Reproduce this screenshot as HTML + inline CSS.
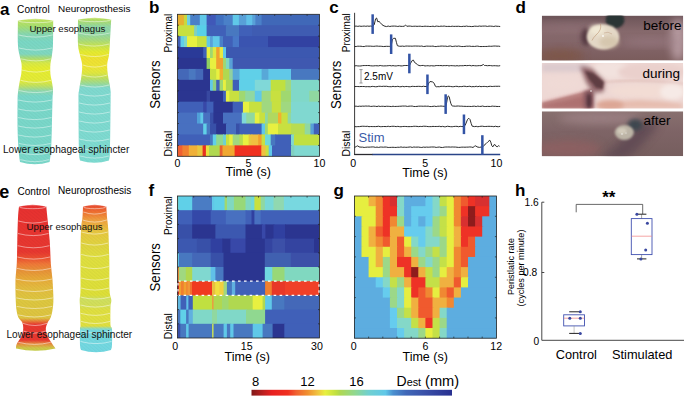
<!DOCTYPE html>
<html><head><meta charset="utf-8"><style>
html,body{margin:0;padding:0;background:#fff;width:685px;height:397px;overflow:hidden}
svg{display:block}
text{font-family:"Liberation Sans", sans-serif}
</style></head><body>
<svg width="685" height="397" viewBox="0 0 685 397">
<defs>
<linearGradient id="cbar" x1="0" x2="1" y1="0" y2="0"><stop offset="0" stop-color="#801818"/><stop offset="0.062" stop-color="#C02020"/><stop offset="0.102" stop-color="#E82020"/><stop offset="0.182" stop-color="#F03020"/><stop offset="0.222" stop-color="#F06030"/><stop offset="0.28" stop-color="#F09030"/><stop offset="0.327" stop-color="#F0C040"/><stop offset="0.367" stop-color="#E8F040"/><stop offset="0.422" stop-color="#C0E040"/><stop offset="0.44" stop-color="#B0D850"/><stop offset="0.516" stop-color="#90D890"/><stop offset="0.584" stop-color="#70D0D0"/><stop offset="0.668" stop-color="#60C8E8"/><stop offset="0.706" stop-color="#4A90D0"/><stop offset="0.77" stop-color="#4068B8"/><stop offset="0.865" stop-color="#3A50A8"/><stop offset="1" stop-color="#283090"/></linearGradient>
</defs>
<text x="0" y="14.8" font-size="17" text-anchor="start" font-weight="bold" fill="#000" >a</text>
<text x="149" y="12.7" font-size="17" text-anchor="start" font-weight="bold" fill="#000" >b</text>
<text x="329.2" y="12.7" font-size="17" text-anchor="start" font-weight="bold" fill="#000" >c</text>
<text x="515.5" y="12.8" font-size="17" text-anchor="start" font-weight="bold" fill="#000" >d</text>
<text x="-0.8" y="198.3" font-size="18" text-anchor="start" font-weight="bold" fill="#000" >e</text>
<text x="148.6" y="196.2" font-size="17" text-anchor="start" font-weight="bold" fill="#000" >f</text>
<text x="333.5" y="196" font-size="17" text-anchor="start" font-weight="bold" fill="#000" >g</text>
<text x="515" y="195.8" font-size="17" text-anchor="start" font-weight="bold" fill="#000" >h</text>
<defs><pattern id="hatch" patternUnits="userSpaceOnUse" width="2.6" height="2.6" patternTransform="rotate(-50)"><rect x="0" y="0" width="1.1" height="2.6" fill="#000" fill-opacity="0.035"/></pattern></defs>
<linearGradient id="cyA1" gradientUnits="userSpaceOnUse" x1="0" y1="18" x2="0" y2="166"><stop offset="0.0000" stop-color="#C8E458"/><stop offset="0.0541" stop-color="#A8E070"/><stop offset="0.1081" stop-color="#88D8B0"/><stop offset="0.1622" stop-color="#7AD8C6"/><stop offset="0.2432" stop-color="#80D8C0"/><stop offset="0.2703" stop-color="#A8DC78"/><stop offset="0.3041" stop-color="#D8EA48"/><stop offset="0.3378" stop-color="#E6EE30"/><stop offset="0.4257" stop-color="#E4EC38"/><stop offset="0.4595" stop-color="#C0E264"/><stop offset="0.4932" stop-color="#90D8B0"/><stop offset="0.5270" stop-color="#7AD8CA"/><stop offset="1.0000" stop-color="#7AD8CA"/></linearGradient>
<path d="M17.90,20.50 C17.90,24.42 17.63,38.25 17.90,44.00 C18.17,49.75 18.88,51.60 19.50,55.00 C20.12,58.40 21.30,61.32 21.60,64.40 C21.90,67.48 21.57,70.90 21.30,73.50 C21.03,76.10 20.48,77.35 20.00,80.00 C19.52,82.65 18.80,86.07 18.40,89.40 C18.00,92.73 17.73,93.23 17.60,100.00 C17.47,106.77 17.43,121.58 17.60,130.00 C17.77,138.42 18.20,145.17 18.60,150.50 C19.00,155.83 19.77,160.08 20.00,162.00 Q34.80,166.60 49.60,162.00 C49.83,160.08 50.63,155.83 51.00,150.50 C51.37,145.17 51.55,138.42 51.80,130.00 C52.05,121.58 52.30,106.77 52.50,100.00 C52.70,93.23 53.17,92.73 53.00,89.40 C52.83,86.07 51.93,82.65 51.50,80.00 C51.07,77.35 50.58,76.10 50.40,73.50 C50.22,70.90 50.13,67.48 50.40,64.40 C50.67,61.32 51.57,58.40 52.00,55.00 C52.43,51.60 52.80,49.75 53.00,44.00 C53.20,38.25 53.17,24.42 53.20,20.50 Q35.55,17.00 17.90,20.50 Z" fill="url(#cyA1)"/>
<path d="M17.90,20.50 C17.90,24.42 17.63,38.25 17.90,44.00 C18.17,49.75 18.88,51.60 19.50,55.00 C20.12,58.40 21.30,61.32 21.60,64.40 C21.90,67.48 21.57,70.90 21.30,73.50 C21.03,76.10 20.48,77.35 20.00,80.00 C19.52,82.65 18.80,86.07 18.40,89.40 C18.00,92.73 17.73,93.23 17.60,100.00 C17.47,106.77 17.43,121.58 17.60,130.00 C17.77,138.42 18.20,145.17 18.60,150.50 C19.00,155.83 19.77,160.08 20.00,162.00 Q34.80,166.60 49.60,162.00 C49.83,160.08 50.63,155.83 51.00,150.50 C51.37,145.17 51.55,138.42 51.80,130.00 C52.05,121.58 52.30,106.77 52.50,100.00 C52.70,93.23 53.17,92.73 53.00,89.40 C52.83,86.07 51.93,82.65 51.50,80.00 C51.07,77.35 50.58,76.10 50.40,73.50 C50.22,70.90 50.13,67.48 50.40,64.40 C50.67,61.32 51.57,58.40 52.00,55.00 C52.43,51.60 52.80,49.75 53.00,44.00 C53.20,38.25 53.17,24.42 53.20,20.50 Q35.55,17.00 17.90,20.50 Z" fill="url(#hatch)"/>
<path d="M18.40,35.00 Q35.49,39.20 52.58,35.00" stroke="#fff" stroke-opacity="0.55" stroke-width="0.8" fill="none"/>
<path d="M18.98,48.00 Q35.56,52.20 52.14,48.00" stroke="#fff" stroke-opacity="0.55" stroke-width="0.8" fill="none"/>
<path d="M20.85,58.80 Q35.85,63.00 50.85,58.80" stroke="#fff" stroke-opacity="0.55" stroke-width="0.8" fill="none"/>
<path d="M21.92,70.00 Q35.91,74.20 49.90,70.00" stroke="#fff" stroke-opacity="0.55" stroke-width="0.8" fill="none"/>
<path d="M20.45,80.30 Q35.75,84.50 51.05,80.30" stroke="#fff" stroke-opacity="0.55" stroke-width="0.8" fill="none"/>
<path d="M18.82,90.50 Q35.63,94.70 52.45,90.50" stroke="#fff" stroke-opacity="0.55" stroke-width="0.8" fill="none"/>
<path d="M18.10,100.00 Q35.05,104.20 52.00,100.00" stroke="#fff" stroke-opacity="0.55" stroke-width="0.8" fill="none"/>
<path d="M18.10,109.00 Q34.95,113.20 51.79,109.00" stroke="#fff" stroke-opacity="0.55" stroke-width="0.8" fill="none"/>
<path d="M18.10,117.50 Q34.85,121.70 51.59,117.50" stroke="#fff" stroke-opacity="0.55" stroke-width="0.8" fill="none"/>
<path d="M18.10,126.00 Q34.75,130.20 51.39,126.00" stroke="#fff" stroke-opacity="0.55" stroke-width="0.8" fill="none"/>
<path d="M18.34,135.00 Q34.72,139.20 51.10,135.00" stroke="#fff" stroke-opacity="0.55" stroke-width="0.8" fill="none"/>
<path d="M18.75,143.40 Q34.77,147.60 50.78,143.40" stroke="#fff" stroke-opacity="0.55" stroke-width="0.8" fill="none"/>
<path d="M19.34,152.50 Q34.80,156.70 50.26,152.50" stroke="#fff" stroke-opacity="0.55" stroke-width="0.8" fill="none"/>
<path d="M20.21,159.60 Q34.80,163.80 49.39,159.60" stroke="#fff" stroke-opacity="0.55" stroke-width="0.8" fill="none"/>
<ellipse cx="35.55" cy="20.80" rx="17.25" ry="1.9" fill="none" stroke="#fff" stroke-opacity="0.6" stroke-width="0.8"/>
<linearGradient id="cyA2" gradientUnits="userSpaceOnUse" x1="0" y1="17" x2="0" y2="165"><stop offset="0.0000" stop-color="#C4E250"/><stop offset="0.0338" stop-color="#A8DC78"/><stop offset="0.0676" stop-color="#90D8A8"/><stop offset="0.1149" stop-color="#92D8A4"/><stop offset="0.1554" stop-color="#A8DC80"/><stop offset="0.1959" stop-color="#C8E450"/><stop offset="0.2365" stop-color="#E6EC30"/><stop offset="0.2905" stop-color="#F0E232"/><stop offset="0.3378" stop-color="#EEE636"/><stop offset="0.3784" stop-color="#E0E840"/><stop offset="0.4122" stop-color="#C0E060"/><stop offset="0.4459" stop-color="#A0DC90"/><stop offset="0.4797" stop-color="#80DAD0"/><stop offset="1.0000" stop-color="#7EDCD2"/></linearGradient>
<path d="M78.00,19.50 C78.00,23.58 77.67,38.08 78.00,44.00 C78.33,49.92 79.32,51.60 80.00,55.00 C80.68,58.40 81.85,60.93 82.10,64.40 C82.35,67.87 81.98,71.63 81.50,75.80 C81.02,79.97 79.70,85.37 79.20,89.40 C78.70,93.43 78.53,89.90 78.50,100.00 C78.47,110.10 78.75,139.92 79.00,150.00 C79.25,160.08 79.83,158.75 80.00,160.50 Q94.50,165.10 109.00,160.50 C109.17,158.75 109.73,160.08 110.00,150.00 C110.27,139.92 110.53,110.10 110.60,100.00 C110.67,89.90 110.83,93.43 110.40,89.40 C109.97,85.37 108.53,79.97 108.00,75.80 C107.47,71.63 107.03,67.87 107.20,64.40 C107.37,60.93 108.57,58.40 109.00,55.00 C109.43,51.60 109.43,49.92 109.80,44.00 C110.17,38.08 110.97,23.58 111.20,19.50 Q94.60,16.00 78.00,19.50 Z" fill="url(#cyA2)"/>
<path d="M78.00,19.50 C78.00,23.58 77.67,38.08 78.00,44.00 C78.33,49.92 79.32,51.60 80.00,55.00 C80.68,58.40 81.85,60.93 82.10,64.40 C82.35,67.87 81.98,71.63 81.50,75.80 C81.02,79.97 79.70,85.37 79.20,89.40 C78.70,93.43 78.53,89.90 78.50,100.00 C78.47,110.10 78.75,139.92 79.00,150.00 C79.25,160.08 79.83,158.75 80.00,160.50 Q94.50,165.10 109.00,160.50 C109.17,158.75 109.73,160.08 110.00,150.00 C110.27,139.92 110.53,110.10 110.60,100.00 C110.67,89.90 110.83,93.43 110.40,89.40 C109.97,85.37 108.53,79.97 108.00,75.80 C107.47,71.63 107.03,67.87 107.20,64.40 C107.37,60.93 108.57,58.40 109.00,55.00 C109.43,51.60 109.43,49.92 109.80,44.00 C110.17,38.08 110.97,23.58 111.20,19.50 Q94.60,16.00 78.00,19.50 Z" fill="url(#hatch)"/>
<path d="M78.50,33.00 Q94.21,37.20 109.93,33.00" stroke="#fff" stroke-opacity="0.55" stroke-width="0.8" fill="none"/>
<path d="M78.50,44.00 Q93.90,48.20 109.30,44.00" stroke="#fff" stroke-opacity="0.55" stroke-width="0.8" fill="none"/>
<path d="M80.41,54.50 Q94.47,58.70 108.54,54.50" stroke="#fff" stroke-opacity="0.55" stroke-width="0.8" fill="none"/>
<path d="M82.57,65.00 Q94.66,69.20 106.74,65.00" stroke="#fff" stroke-opacity="0.55" stroke-width="0.8" fill="none"/>
<path d="M82.04,75.00 Q94.74,79.20 107.44,75.00" stroke="#fff" stroke-opacity="0.55" stroke-width="0.8" fill="none"/>
<path d="M80.44,85.00 Q94.78,89.20 109.12,85.00" stroke="#fff" stroke-opacity="0.55" stroke-width="0.8" fill="none"/>
<path d="M79.40,94.00 Q94.69,98.20 109.99,94.00" stroke="#fff" stroke-opacity="0.55" stroke-width="0.8" fill="none"/>
<path d="M79.03,103.00 Q94.55,107.20 110.06,103.00" stroke="#fff" stroke-opacity="0.55" stroke-width="0.8" fill="none"/>
<path d="M79.12,112.00 Q94.54,116.20 109.96,112.00" stroke="#fff" stroke-opacity="0.55" stroke-width="0.8" fill="none"/>
<path d="M79.21,121.00 Q94.53,125.20 109.85,121.00" stroke="#fff" stroke-opacity="0.55" stroke-width="0.8" fill="none"/>
<path d="M79.30,130.00 Q94.52,134.20 109.74,130.00" stroke="#fff" stroke-opacity="0.55" stroke-width="0.8" fill="none"/>
<path d="M79.39,139.00 Q94.51,143.20 109.63,139.00" stroke="#fff" stroke-opacity="0.55" stroke-width="0.8" fill="none"/>
<path d="M79.48,148.00 Q94.50,152.20 109.52,148.00" stroke="#fff" stroke-opacity="0.55" stroke-width="0.8" fill="none"/>
<path d="M80.07,156.00 Q94.50,160.20 108.93,156.00" stroke="#fff" stroke-opacity="0.55" stroke-width="0.8" fill="none"/>
<ellipse cx="94.60" cy="19.80" rx="16.20" ry="1.9" fill="none" stroke="#fff" stroke-opacity="0.6" stroke-width="0.8"/>
<linearGradient id="cyE1" gradientUnits="userSpaceOnUse" x1="0" y1="203" x2="0" y2="354"><stop offset="0.0000" stop-color="#E83030"/><stop offset="0.3245" stop-color="#E83830"/><stop offset="0.3642" stop-color="#EC5030"/><stop offset="0.4040" stop-color="#F07838"/><stop offset="0.4437" stop-color="#E89038"/><stop offset="0.4967" stop-color="#E8A838"/><stop offset="0.5629" stop-color="#E4BC40"/><stop offset="0.6424" stop-color="#DEC840"/><stop offset="0.7616" stop-color="#DEC440"/><stop offset="0.7848" stop-color="#E87838"/><stop offset="0.8046" stop-color="#E83830"/><stop offset="0.9073" stop-color="#E83830"/><stop offset="0.9338" stop-color="#E89040"/><stop offset="0.9603" stop-color="#D0C848"/><stop offset="0.9868" stop-color="#C0D048"/></linearGradient>
<path d="M19.00,206.50 C18.83,208.37 18.28,212.05 18.00,217.70 C17.72,223.35 17.50,232.85 17.30,240.40 C17.10,247.95 17.10,256.40 16.80,263.00 C16.50,269.60 15.68,274.00 15.50,280.00 C15.32,286.00 15.53,294.00 15.70,299.00 C15.87,304.00 16.03,306.88 16.50,310.00 C16.97,313.12 17.53,315.62 18.50,317.70 C19.47,319.78 21.52,320.62 22.30,322.50 C23.08,324.38 23.37,326.65 23.20,329.00 C23.03,331.35 22.40,334.07 21.30,336.60 C20.20,339.13 17.48,342.22 16.60,344.20 C15.72,346.18 16.10,347.78 16.00,348.50 Q35.75,353.10 55.50,348.50 C55.00,347.78 53.80,346.18 52.50,344.20 C51.20,342.22 48.82,339.13 47.70,336.60 C46.58,334.07 45.80,331.35 45.80,329.00 C45.80,326.65 46.90,324.38 47.70,322.50 C48.50,320.62 49.80,319.78 50.60,317.70 C51.40,315.62 52.03,313.12 52.50,310.00 C52.97,306.88 53.40,304.00 53.40,299.00 C53.40,294.00 52.93,286.00 52.50,280.00 C52.07,274.00 51.27,269.60 50.80,263.00 C50.33,256.40 50.27,247.95 49.70,240.40 C49.13,232.85 47.97,223.35 47.40,217.70 C46.83,212.05 46.48,208.37 46.30,206.50 Q32.65,203.00 19.00,206.50 Z" fill="url(#cyE1)"/>
<path d="M19.00,206.50 C18.83,208.37 18.28,212.05 18.00,217.70 C17.72,223.35 17.50,232.85 17.30,240.40 C17.10,247.95 17.10,256.40 16.80,263.00 C16.50,269.60 15.68,274.00 15.50,280.00 C15.32,286.00 15.53,294.00 15.70,299.00 C15.87,304.00 16.03,306.88 16.50,310.00 C16.97,313.12 17.53,315.62 18.50,317.70 C19.47,319.78 21.52,320.62 22.30,322.50 C23.08,324.38 23.37,326.65 23.20,329.00 C23.03,331.35 22.40,334.07 21.30,336.60 C20.20,339.13 17.48,342.22 16.60,344.20 C15.72,346.18 16.10,347.78 16.00,348.50 Q35.75,353.10 55.50,348.50 C55.00,347.78 53.80,346.18 52.50,344.20 C51.20,342.22 48.82,339.13 47.70,336.60 C46.58,334.07 45.80,331.35 45.80,329.00 C45.80,326.65 46.90,324.38 47.70,322.50 C48.50,320.62 49.80,319.78 50.60,317.70 C51.40,315.62 52.03,313.12 52.50,310.00 C52.97,306.88 53.40,304.00 53.40,299.00 C53.40,294.00 52.93,286.00 52.50,280.00 C52.07,274.00 51.27,269.60 50.80,263.00 C50.33,256.40 50.27,247.95 49.70,240.40 C49.13,232.85 47.97,223.35 47.40,217.70 C46.83,212.05 46.48,208.37 46.30,206.50 Q32.65,203.00 19.00,206.50 Z" fill="url(#hatch)"/>
<path d="M18.40,221.00 Q32.82,225.20 47.23,221.00" stroke="#fff" stroke-opacity="0.6" stroke-width="0.8" fill="none"/>
<path d="M18.01,233.50 Q33.26,237.70 48.50,233.50" stroke="#fff" stroke-opacity="0.6" stroke-width="0.8" fill="none"/>
<path d="M17.68,245.70 Q33.57,249.90 49.46,245.70" stroke="#fff" stroke-opacity="0.6" stroke-width="0.8" fill="none"/>
<path d="M17.43,257.00 Q33.72,261.20 50.01,257.00" stroke="#fff" stroke-opacity="0.6" stroke-width="0.8" fill="none"/>
<path d="M16.89,268.40 Q33.86,272.60 50.84,268.40" stroke="#fff" stroke-opacity="0.6" stroke-width="0.8" fill="none"/>
<path d="M16.07,279.10 Q33.99,283.30 51.91,279.10" stroke="#fff" stroke-opacity="0.6" stroke-width="0.8" fill="none"/>
<path d="M16.10,289.40 Q34.27,293.60 52.45,289.40" stroke="#fff" stroke-opacity="0.6" stroke-width="0.8" fill="none"/>
<path d="M16.19,297.90 Q34.52,302.10 52.85,297.90" stroke="#fff" stroke-opacity="0.6" stroke-width="0.8" fill="none"/>
<path d="M16.74,306.40 Q34.52,310.60 52.29,306.40" stroke="#fff" stroke-opacity="0.6" stroke-width="0.8" fill="none"/>
<path d="M18.27,314.90 Q34.53,319.10 50.79,314.90" stroke="#fff" stroke-opacity="0.6" stroke-width="0.8" fill="none"/>
<path d="M22.92,323.40 Q34.93,327.60 46.94,323.40" stroke="#fff" stroke-opacity="0.6" stroke-width="0.8" fill="none"/>
<path d="M23.20,331.00 Q34.50,335.20 45.80,331.00" stroke="#fff" stroke-opacity="0.6" stroke-width="0.8" fill="none"/>
<path d="M18.27,342.30 Q34.54,346.50 50.80,342.30" stroke="#fff" stroke-opacity="0.6" stroke-width="0.8" fill="none"/>
<ellipse cx="32.65" cy="206.80" rx="13.25" ry="1.9" fill="none" stroke="#fff" stroke-opacity="0.6" stroke-width="0.8"/>
<linearGradient id="cyE2" gradientUnits="userSpaceOnUse" x1="0" y1="203" x2="0" y2="354"><stop offset="0.0000" stop-color="#E84030"/><stop offset="0.0596" stop-color="#F07030"/><stop offset="0.1126" stop-color="#F0A040"/><stop offset="0.1921" stop-color="#E8C840"/><stop offset="0.2848" stop-color="#E0D640"/><stop offset="0.3642" stop-color="#E0E040"/><stop offset="0.6093" stop-color="#DEE038"/><stop offset="0.6358" stop-color="#D0E060"/><stop offset="0.6821" stop-color="#D4E058"/><stop offset="0.7086" stop-color="#E0E040"/><stop offset="0.8146" stop-color="#E0E040"/><stop offset="0.8278" stop-color="#A0DCA8"/><stop offset="0.8411" stop-color="#76DAE0"/><stop offset="1.0000" stop-color="#72D8E2"/></linearGradient>
<path d="M83.00,206.50 C82.92,208.25 82.83,213.08 82.50,217.00 C82.17,220.92 81.33,222.83 81.00,230.00 C80.67,237.17 80.58,250.00 80.50,260.00 C80.42,270.00 80.63,283.33 80.50,290.00 C80.37,296.67 79.78,297.17 79.70,300.00 C79.62,302.83 79.87,302.83 80.00,307.00 C80.13,311.17 80.50,321.33 80.50,325.00 C80.50,328.67 80.08,325.67 80.00,329.00 C79.92,332.33 79.83,341.50 80.00,345.00 C80.17,348.50 80.83,349.17 81.00,350.00 Q96.00,354.60 111.00,350.00 C111.17,349.17 111.83,348.50 112.00,345.00 C112.17,341.50 112.25,332.33 112.00,329.00 C111.75,325.67 110.75,328.67 110.50,325.00 C110.25,321.33 110.37,311.17 110.50,307.00 C110.63,302.83 111.47,302.83 111.30,300.00 C111.13,297.17 109.83,296.67 109.50,290.00 C109.17,283.33 109.50,270.00 109.30,260.00 C109.10,250.00 108.68,237.17 108.30,230.00 C107.92,222.83 107.33,220.92 107.00,217.00 C106.67,213.08 106.42,208.25 106.30,206.50 Q94.65,203.00 83.00,206.50 Z" fill="url(#cyE2)"/>
<path d="M83.00,206.50 C82.92,208.25 82.83,213.08 82.50,217.00 C82.17,220.92 81.33,222.83 81.00,230.00 C80.67,237.17 80.58,250.00 80.50,260.00 C80.42,270.00 80.63,283.33 80.50,290.00 C80.37,296.67 79.78,297.17 79.70,300.00 C79.62,302.83 79.87,302.83 80.00,307.00 C80.13,311.17 80.50,321.33 80.50,325.00 C80.50,328.67 80.08,325.67 80.00,329.00 C79.92,332.33 79.83,341.50 80.00,345.00 C80.17,348.50 80.83,349.17 81.00,350.00 Q96.00,354.60 111.00,350.00 C111.17,349.17 111.83,348.50 112.00,345.00 C112.17,341.50 112.25,332.33 112.00,329.00 C111.75,325.67 110.75,328.67 110.50,325.00 C110.25,321.33 110.37,311.17 110.50,307.00 C110.63,302.83 111.47,302.83 111.30,300.00 C111.13,297.17 109.83,296.67 109.50,290.00 C109.17,283.33 109.50,270.00 109.30,260.00 C109.10,250.00 108.68,237.17 108.30,230.00 C107.92,222.83 107.33,220.92 107.00,217.00 C106.67,213.08 106.42,208.25 106.30,206.50 Q94.65,203.00 83.00,206.50 Z" fill="url(#hatch)"/>
<path d="M83.24,212.00 Q94.70,216.20 106.17,212.00" stroke="#fff" stroke-opacity="0.6" stroke-width="0.8" fill="none"/>
<path d="M82.65,220.00 Q94.73,224.20 106.80,220.00" stroke="#fff" stroke-opacity="0.6" stroke-width="0.8" fill="none"/>
<path d="M81.47,232.00 Q94.67,236.20 107.87,232.00" stroke="#fff" stroke-opacity="0.6" stroke-width="0.8" fill="none"/>
<path d="M81.28,243.00 Q94.76,247.20 108.23,243.00" stroke="#fff" stroke-opacity="0.6" stroke-width="0.8" fill="none"/>
<path d="M81.09,254.40 Q94.85,258.60 108.61,254.40" stroke="#fff" stroke-opacity="0.6" stroke-width="0.8" fill="none"/>
<path d="M81.00,266.50 Q94.92,270.70 108.84,266.50" stroke="#fff" stroke-opacity="0.6" stroke-width="0.8" fill="none"/>
<path d="M81.00,278.00 Q94.96,282.20 108.92,278.00" stroke="#fff" stroke-opacity="0.6" stroke-width="0.8" fill="none"/>
<path d="M81.00,288.00 Q94.99,292.20 108.99,288.00" stroke="#fff" stroke-opacity="0.6" stroke-width="0.8" fill="none"/>
<path d="M80.44,297.00 Q95.35,301.20 110.26,297.00" stroke="#fff" stroke-opacity="0.6" stroke-width="0.8" fill="none"/>
<path d="M80.41,305.00 Q95.32,309.20 110.23,305.00" stroke="#fff" stroke-opacity="0.6" stroke-width="0.8" fill="none"/>
<path d="M80.67,313.30 Q95.34,317.50 110.00,313.30" stroke="#fff" stroke-opacity="0.6" stroke-width="0.8" fill="none"/>
<path d="M80.90,321.40 Q95.45,325.60 110.00,321.40" stroke="#fff" stroke-opacity="0.6" stroke-width="0.8" fill="none"/>
<path d="M80.50,331.00 Q96.00,335.20 111.50,331.00" stroke="#fff" stroke-opacity="0.6" stroke-width="0.8" fill="none"/>
<path d="M80.50,341.50 Q96.00,345.70 111.50,341.50" stroke="#fff" stroke-opacity="0.6" stroke-width="0.8" fill="none"/>
<ellipse cx="94.65" cy="206.80" rx="11.25" ry="1.9" fill="none" stroke="#fff" stroke-opacity="0.6" stroke-width="0.8"/>
<text x="17.1" y="13.2" font-size="10.1" text-anchor="start" font-weight="normal" fill="#000" >Control</text>
<text x="58.1" y="12.4" font-size="9.95" text-anchor="start" font-weight="normal" fill="#000" >Neuroprosthesis</text>
<text x="29.4" y="32.4" font-size="9.65" text-anchor="start" font-weight="normal" fill="#111" >Upper esophagus</text>
<text x="3.0" y="153.2" font-size="10.1" text-anchor="start" font-weight="normal" fill="#111" >Lower esophageal sphincter</text>
<text x="17.4" y="194.7" font-size="10.1" text-anchor="start" font-weight="normal" fill="#000" >Control</text>
<text x="58.1" y="194.0" font-size="10.05" text-anchor="start" font-weight="normal" fill="#000" >Neuroprosthesis</text>
<text x="26.6" y="229.6" font-size="9.65" text-anchor="start" font-weight="normal" fill="#111" >Upper esophagus</text>
<text x="6.5" y="338.2" font-size="10.05" text-anchor="start" font-weight="normal" fill="#111" >Lower esophageal sphincter</text>
<rect x="177.50" y="14.30" width="7.40" height="11.92" fill="#E8B030" />
<rect x="183.90" y="14.30" width="4.10" height="11.92" fill="#C8D840" />
<rect x="187.00" y="14.30" width="4.20" height="11.92" fill="#70D0E0" />
<rect x="190.20" y="14.30" width="10.60" height="11.92" fill="#4A80C8" />
<rect x="199.80" y="14.30" width="7.80" height="11.92" fill="#60C8E8" />
<rect x="206.60" y="14.30" width="10.10" height="11.92" fill="#4058B8" />
<rect x="215.70" y="14.30" width="8.90" height="11.92" fill="#4070C0" />
<rect x="223.60" y="14.30" width="10.10" height="11.92" fill="#4A80C8" />
<rect x="232.70" y="14.30" width="7.20" height="11.92" fill="#60C8E8" />
<rect x="238.90" y="14.30" width="8.40" height="11.92" fill="#58A0D8" />
<rect x="246.30" y="14.30" width="7.00" height="11.92" fill="#60C0E8" />
<rect x="252.30" y="14.30" width="4.10" height="11.92" fill="#58A0D8" />
<rect x="255.40" y="14.30" width="7.20" height="11.92" fill="#4A80C8" />
<rect x="261.60" y="14.30" width="57.90" height="11.92" fill="#4068B8" />
<rect x="177.50" y="25.22" width="17.60" height="11.92" fill="#C8E040" />
<rect x="194.10" y="25.22" width="3.90" height="11.92" fill="#80D0C0" />
<rect x="197.00" y="25.22" width="10.60" height="11.92" fill="#58D0E8" />
<rect x="206.60" y="25.22" width="20.30" height="11.92" fill="#4060B8" />
<rect x="225.90" y="25.22" width="14.10" height="11.92" fill="#4878C0" />
<rect x="239.00" y="25.22" width="14.00" height="11.92" fill="#4060B8" />
<rect x="252.00" y="25.22" width="67.50" height="11.92" fill="#3F5CB2" />
<rect x="177.50" y="36.15" width="4.00" height="11.92" fill="#4060B8" />
<rect x="180.50" y="36.15" width="4.50" height="11.92" fill="#60D0E8" />
<rect x="184.00" y="36.15" width="4.00" height="11.92" fill="#80D8C8" />
<rect x="187.00" y="36.15" width="11.00" height="11.92" fill="#E8F040" />
<rect x="197.00" y="36.15" width="10.60" height="11.92" fill="#C8E040" />
<rect x="206.60" y="36.15" width="4.40" height="11.92" fill="#60C8E8" />
<rect x="210.00" y="36.15" width="3.80" height="11.92" fill="#58A0D8" />
<rect x="212.80" y="36.15" width="7.80" height="11.92" fill="#60C8E8" />
<rect x="219.60" y="36.15" width="4.40" height="11.92" fill="#4A80C8" />
<rect x="223.00" y="36.15" width="10.70" height="11.92" fill="#4060B8" />
<rect x="232.70" y="36.15" width="7.30" height="11.92" fill="#4878C8" />
<rect x="239.00" y="36.15" width="30.00" height="11.92" fill="#3A54B0" />
<rect x="268.00" y="36.15" width="51.50" height="11.92" fill="#3242A2" />
<rect x="177.50" y="47.07" width="26.70" height="11.92" fill="#2A3A98" />
<rect x="203.20" y="47.07" width="4.40" height="11.92" fill="#4060B8" />
<rect x="206.60" y="47.07" width="4.40" height="11.92" fill="#E8F040" />
<rect x="210.00" y="47.07" width="3.80" height="11.92" fill="#A0D870" />
<rect x="212.80" y="47.07" width="4.40" height="11.92" fill="#E0E840" />
<rect x="216.20" y="47.07" width="4.40" height="11.92" fill="#F0A030" />
<rect x="219.60" y="47.07" width="4.40" height="11.92" fill="#E8E840" />
<rect x="223.00" y="47.07" width="4.00" height="11.92" fill="#60C8E8" />
<rect x="226.00" y="47.07" width="93.50" height="11.92" fill="#3C58B0" />
<rect x="177.50" y="57.99" width="30.10" height="11.92" fill="#2B3590" />
<rect x="206.60" y="57.99" width="4.40" height="11.92" fill="#90D060" />
<rect x="210.00" y="57.99" width="7.20" height="11.92" fill="#E8F040" />
<rect x="216.20" y="57.99" width="7.80" height="11.92" fill="#F0A030" />
<rect x="223.00" y="57.99" width="3.90" height="11.92" fill="#A0D870" />
<rect x="225.90" y="57.99" width="4.40" height="11.92" fill="#80D8C0" />
<rect x="229.30" y="57.99" width="4.40" height="11.92" fill="#58A0D8" />
<rect x="232.70" y="57.99" width="86.80" height="11.92" fill="#3F58B0" />
<rect x="177.50" y="68.92" width="12.30" height="11.92" fill="#4468B8" />
<rect x="188.80" y="68.92" width="7.80" height="11.92" fill="#4A78C0" />
<rect x="195.60" y="68.92" width="8.60" height="11.92" fill="#4468B8" />
<rect x="203.20" y="68.92" width="7.80" height="11.92" fill="#2B3590" />
<rect x="210.00" y="68.92" width="7.20" height="11.92" fill="#C8E040" />
<rect x="216.20" y="68.92" width="4.40" height="11.92" fill="#E8F040" />
<rect x="219.60" y="68.92" width="4.40" height="11.92" fill="#F0B030" />
<rect x="223.00" y="68.92" width="7.30" height="11.92" fill="#B0D850" />
<rect x="229.30" y="68.92" width="4.40" height="11.92" fill="#90D0A0" />
<rect x="232.70" y="68.92" width="7.80" height="11.92" fill="#58A8D8" />
<rect x="239.50" y="68.92" width="23.10" height="11.92" fill="#60D0E8" />
<rect x="261.60" y="68.92" width="7.80" height="11.92" fill="#58A8D8" />
<rect x="268.40" y="68.92" width="23.60" height="11.92" fill="#60C8E8" />
<rect x="291.00" y="68.92" width="28.50" height="11.92" fill="#4878C0" />
<rect x="177.50" y="79.84" width="33.50" height="11.92" fill="#2B3590" />
<rect x="210.00" y="79.84" width="3.80" height="11.92" fill="#60C8E8" />
<rect x="212.80" y="79.84" width="4.40" height="11.92" fill="#90D080" />
<rect x="216.20" y="79.84" width="4.40" height="11.92" fill="#4060B8" />
<rect x="219.60" y="79.84" width="4.40" height="11.92" fill="#A0D870" />
<rect x="223.00" y="79.84" width="3.90" height="11.92" fill="#E8F040" />
<rect x="225.90" y="79.84" width="7.80" height="11.92" fill="#B0D850" />
<rect x="232.70" y="79.84" width="7.30" height="11.92" fill="#4060B8" />
<rect x="239.00" y="79.84" width="16.80" height="11.92" fill="#60D0E8" />
<rect x="254.80" y="79.84" width="16.90" height="11.92" fill="#80D8D8" />
<rect x="270.70" y="79.84" width="15.70" height="11.92" fill="#C0E040" />
<rect x="285.40" y="79.84" width="6.60" height="11.92" fill="#A0D880" />
<rect x="291.00" y="79.84" width="28.50" height="11.92" fill="#80D8C8" />
<rect x="177.50" y="90.76" width="30.10" height="11.92" fill="#2B3590" />
<rect x="206.60" y="90.76" width="4.40" height="11.92" fill="#3848A0" />
<rect x="210.00" y="90.76" width="14.00" height="11.92" fill="#2B3590" />
<rect x="223.00" y="90.76" width="3.90" height="11.92" fill="#4060B8" />
<rect x="225.90" y="90.76" width="4.40" height="11.92" fill="#E8F040" />
<rect x="229.30" y="90.76" width="10.70" height="11.92" fill="#C8E040" />
<rect x="239.00" y="90.76" width="7.20" height="11.92" fill="#A0D870" />
<rect x="245.20" y="90.76" width="10.60" height="11.92" fill="#90D8A0" />
<rect x="254.80" y="90.76" width="7.80" height="11.92" fill="#60C8E8" />
<rect x="261.60" y="90.76" width="10.10" height="11.92" fill="#A0D880" />
<rect x="270.70" y="90.76" width="11.20" height="11.92" fill="#C8E040" />
<rect x="280.90" y="90.76" width="11.10" height="11.92" fill="#A0D870" />
<rect x="291.00" y="90.76" width="19.20" height="11.92" fill="#80D8C8" />
<rect x="309.20" y="90.76" width="10.30" height="11.92" fill="#90D8A0" />
<rect x="177.50" y="101.68" width="26.70" height="11.92" fill="#4060B8" />
<rect x="203.20" y="101.68" width="4.40" height="11.92" fill="#3848A8" />
<rect x="206.60" y="101.68" width="7.80" height="11.92" fill="#4060B8" />
<rect x="213.40" y="101.68" width="20.30" height="11.92" fill="#2B3590" />
<rect x="232.70" y="101.68" width="11.20" height="11.92" fill="#4060B8" />
<rect x="242.90" y="101.68" width="7.10" height="11.92" fill="#E8F040" />
<rect x="249.00" y="101.68" width="13.60" height="11.92" fill="#C8E040" />
<rect x="261.60" y="101.68" width="11.20" height="11.92" fill="#A0D880" />
<rect x="271.80" y="101.68" width="10.10" height="11.92" fill="#C8E040" />
<rect x="280.90" y="101.68" width="11.10" height="11.92" fill="#A0D880" />
<rect x="291.00" y="101.68" width="28.50" height="11.92" fill="#80D8D0" />
<rect x="177.50" y="112.61" width="20.50" height="11.92" fill="#4870C0" />
<rect x="197.00" y="112.61" width="4.40" height="11.92" fill="#50A0D8" />
<rect x="200.40" y="112.61" width="3.80" height="11.92" fill="#60C8E8" />
<rect x="203.20" y="112.61" width="7.80" height="11.92" fill="#4870C0" />
<rect x="210.00" y="112.61" width="4.40" height="11.92" fill="#3850A8" />
<rect x="213.40" y="112.61" width="10.60" height="11.92" fill="#2B3590" />
<rect x="223.00" y="112.61" width="19.80" height="11.92" fill="#4870C0" />
<rect x="241.80" y="112.61" width="5.50" height="11.92" fill="#80D8D8" />
<rect x="246.30" y="112.61" width="9.50" height="11.92" fill="#90D8A0" />
<rect x="254.80" y="112.61" width="5.50" height="11.92" fill="#E8F040" />
<rect x="259.30" y="112.61" width="6.70" height="11.92" fill="#C8E040" />
<rect x="265.00" y="112.61" width="3.80" height="11.92" fill="#90D8A0" />
<rect x="267.80" y="112.61" width="11.20" height="11.92" fill="#B0D860" />
<rect x="278.00" y="112.61" width="4.40" height="11.92" fill="#F0B030" />
<rect x="281.40" y="112.61" width="7.30" height="11.92" fill="#C8E040" />
<rect x="287.70" y="112.61" width="4.30" height="11.92" fill="#90D8A0" />
<rect x="291.00" y="112.61" width="28.50" height="11.92" fill="#80D8D0" />
<rect x="177.50" y="123.53" width="26.70" height="11.92" fill="#4870C0" />
<rect x="203.20" y="123.53" width="4.40" height="11.92" fill="#60D0E8" />
<rect x="206.60" y="123.53" width="4.40" height="11.92" fill="#4878C0" />
<rect x="210.00" y="123.53" width="7.20" height="11.92" fill="#3850A8" />
<rect x="216.20" y="123.53" width="10.80" height="11.92" fill="#2B3590" />
<rect x="226.00" y="123.53" width="11.00" height="11.92" fill="#4870C0" />
<rect x="236.00" y="123.53" width="4.50" height="11.92" fill="#3850A8" />
<rect x="239.50" y="123.53" width="23.10" height="11.92" fill="#4060B8" />
<rect x="261.60" y="123.53" width="4.40" height="11.92" fill="#60C8E8" />
<rect x="265.00" y="123.53" width="3.80" height="11.92" fill="#A0D870" />
<rect x="267.80" y="123.53" width="11.20" height="11.92" fill="#E8F040" />
<rect x="278.00" y="123.53" width="14.00" height="11.92" fill="#C8E040" />
<rect x="291.00" y="123.53" width="14.70" height="11.92" fill="#B8DC50" />
<rect x="304.70" y="123.53" width="6.70" height="11.92" fill="#90D8A0" />
<rect x="310.40" y="123.53" width="4.40" height="11.92" fill="#58A0D8" />
<rect x="313.80" y="123.53" width="5.70" height="11.92" fill="#4060B8" />
<rect x="177.50" y="134.45" width="33.50" height="11.92" fill="#4060B8" />
<rect x="210.00" y="134.45" width="3.80" height="11.92" fill="#4878C0" />
<rect x="212.80" y="134.45" width="4.40" height="11.92" fill="#60D0E8" />
<rect x="216.20" y="134.45" width="7.80" height="11.92" fill="#90D890" />
<rect x="223.00" y="134.45" width="4.00" height="11.92" fill="#70D0D0" />
<rect x="226.00" y="134.45" width="4.30" height="11.92" fill="#C8E040" />
<rect x="229.30" y="134.45" width="4.40" height="11.92" fill="#E8F040" />
<rect x="232.70" y="134.45" width="7.80" height="11.92" fill="#A0D880" />
<rect x="239.50" y="134.45" width="4.40" height="11.92" fill="#B8DC50" />
<rect x="242.90" y="134.45" width="6.70" height="11.92" fill="#E8F040" />
<rect x="248.60" y="134.45" width="3.80" height="11.92" fill="#E8C840" />
<rect x="251.40" y="134.45" width="7.80" height="11.92" fill="#F0C040" />
<rect x="258.20" y="134.45" width="4.40" height="11.92" fill="#F0A030" />
<rect x="261.60" y="134.45" width="4.40" height="11.92" fill="#C8E040" />
<rect x="265.00" y="134.45" width="6.70" height="11.92" fill="#70D8D8" />
<rect x="270.70" y="134.45" width="5.50" height="11.92" fill="#4878C0" />
<rect x="275.20" y="134.45" width="16.80" height="11.92" fill="#4060B8" />
<rect x="291.00" y="134.45" width="3.90" height="11.92" fill="#80D8D0" />
<rect x="293.90" y="134.45" width="25.60" height="11.92" fill="#C0E040" />
<rect x="177.50" y="145.38" width="5.90" height="10.92" fill="#F06030" />
<rect x="182.40" y="145.38" width="7.40" height="10.92" fill="#F08030" />
<rect x="188.80" y="145.38" width="9.50" height="10.92" fill="#F0B038" />
<rect x="197.30" y="145.38" width="6.30" height="10.92" fill="#E8C840" />
<rect x="202.60" y="145.38" width="4.30" height="10.92" fill="#E83020" />
<rect x="205.90" y="145.38" width="4.10" height="10.92" fill="#E8E040" />
<rect x="209.00" y="145.38" width="11.70" height="10.92" fill="#B0D850" />
<rect x="219.70" y="145.38" width="3.80" height="10.92" fill="#E86030" />
<rect x="222.50" y="145.38" width="13.10" height="10.92" fill="#F0A830" />
<rect x="234.60" y="145.38" width="27.70" height="10.92" fill="#F03020" />
<rect x="261.30" y="145.38" width="5.30" height="10.92" fill="#F0C040" />
<rect x="265.60" y="145.38" width="4.10" height="10.92" fill="#C8E040" />
<rect x="268.70" y="145.38" width="4.30" height="10.92" fill="#60C8E8" />
<rect x="272.00" y="145.38" width="20.00" height="10.92" fill="#4060B8" />
<rect x="291.00" y="145.38" width="4.30" height="10.92" fill="#80D0C0" />
<rect x="294.30" y="145.38" width="25.20" height="10.92" fill="#80D8D0" />
<rect x="177.5" y="14.3" width="142.0" height="142.0" fill="none" stroke="#222" stroke-width="0.8"/>
<text x="177.5" y="166.8" font-size="10.6" text-anchor="middle" font-weight="normal" fill="#000" >0</text>
<text x="248.5" y="166.8" font-size="10.6" text-anchor="middle" font-weight="normal" fill="#000" >5</text>
<text x="319.5" y="166.8" font-size="10.6" text-anchor="middle" font-weight="normal" fill="#000" >10</text>
<text x="248.3" y="176.4" font-size="12.5" text-anchor="middle" font-weight="normal" fill="#000" >Time (s)</text>
<text x="0" y="0" font-size="10" text-anchor="end" font-weight="normal" fill="#000" transform="translate(172.3,13.7) rotate(-90)">Proximal</text>
<text x="0" y="0" font-size="10.4" text-anchor="start" font-weight="normal" fill="#000" transform="translate(172.3,156.6) rotate(-90)">Distal</text>
<text x="0" y="0" font-size="14.8" text-anchor="middle" font-weight="normal" fill="#000" transform="translate(159.8,84.6) rotate(-90) scale(0.89,1)">Sensors</text>
<rect x="177.50" y="196.00" width="1.80" height="15.20" fill="#80D0A0" />
<rect x="178.30" y="196.00" width="14.90" height="15.20" fill="#60D0E8" />
<rect x="192.20" y="196.00" width="20.80" height="15.20" fill="#4A7CC4" />
<rect x="212.00" y="196.00" width="3.20" height="15.20" fill="#60C8E8" />
<rect x="214.20" y="196.00" width="11.40" height="15.20" fill="#60D0E8" />
<rect x="224.60" y="196.00" width="3.40" height="15.20" fill="#A0D870" />
<rect x="227.00" y="196.00" width="7.90" height="15.20" fill="#80D8C0" />
<rect x="233.90" y="196.00" width="12.60" height="15.20" fill="#98D878" />
<rect x="245.50" y="196.00" width="6.40" height="15.20" fill="#80D8C0" />
<rect x="250.90" y="196.00" width="4.50" height="15.20" fill="#70D8D8" />
<rect x="254.40" y="196.00" width="7.30" height="15.20" fill="#C8E040" />
<rect x="260.70" y="196.00" width="5.10" height="15.20" fill="#90D8A0" />
<rect x="264.80" y="196.00" width="9.70" height="15.20" fill="#78D8D8" />
<rect x="273.50" y="196.00" width="11.40" height="15.20" fill="#90D8B0" />
<rect x="283.90" y="196.00" width="35.60" height="15.20" fill="#78D8E0" />
<rect x="177.50" y="210.20" width="15.70" height="15.20" fill="#4060B8" />
<rect x="192.20" y="210.20" width="19.50" height="15.20" fill="#3448A8" />
<rect x="210.70" y="210.20" width="16.10" height="15.20" fill="#4060B8" />
<rect x="225.80" y="210.20" width="20.70" height="15.20" fill="#4870C0" />
<rect x="245.50" y="210.20" width="7.00" height="15.20" fill="#4060B8" />
<rect x="251.50" y="210.20" width="3.90" height="15.20" fill="#3040A0" />
<rect x="254.40" y="210.20" width="7.30" height="15.20" fill="#4870C0" />
<rect x="260.70" y="210.20" width="58.80" height="15.20" fill="#4060B8" />
<rect x="177.50" y="224.40" width="15.70" height="15.20" fill="#3850A8" />
<rect x="192.20" y="224.40" width="24.20" height="15.20" fill="#2B3590" />
<rect x="215.40" y="224.40" width="31.10" height="15.20" fill="#3C58B0" />
<rect x="245.50" y="224.40" width="17.40" height="15.20" fill="#2B3590" />
<rect x="261.90" y="224.40" width="4.50" height="15.20" fill="#3848A8" />
<rect x="265.40" y="224.40" width="9.10" height="15.20" fill="#2B3590" />
<rect x="273.50" y="224.40" width="12.50" height="15.20" fill="#3040A0" />
<rect x="285.00" y="224.40" width="34.50" height="15.20" fill="#2B3590" />
<rect x="177.50" y="238.60" width="20.30" height="15.20" fill="#3C58B0" />
<rect x="196.80" y="238.60" width="14.90" height="15.20" fill="#3850A8" />
<rect x="210.70" y="238.60" width="12.60" height="15.20" fill="#3040A0" />
<rect x="222.30" y="238.60" width="9.10" height="15.20" fill="#2B3590" />
<rect x="230.40" y="238.60" width="16.10" height="15.20" fill="#3848A8" />
<rect x="245.50" y="238.60" width="20.30" height="15.20" fill="#2B3590" />
<rect x="264.80" y="238.60" width="8.50" height="15.20" fill="#3444A0" />
<rect x="272.30" y="238.60" width="13.70" height="15.20" fill="#3C50A8" />
<rect x="285.00" y="238.60" width="30.00" height="15.20" fill="#3444A0" />
<rect x="314.00" y="238.60" width="5.50" height="15.20" fill="#2B3590" />
<rect x="177.50" y="252.80" width="2.40" height="15.20" fill="#60C8E8" />
<rect x="178.90" y="252.80" width="14.30" height="15.20" fill="#4878C0" />
<rect x="192.20" y="252.80" width="19.50" height="15.20" fill="#4468B8" />
<rect x="210.70" y="252.80" width="13.80" height="15.20" fill="#3850A8" />
<rect x="223.50" y="252.80" width="42.30" height="15.20" fill="#2B3590" />
<rect x="264.80" y="252.80" width="27.00" height="15.20" fill="#4060B0" />
<rect x="290.80" y="252.80" width="28.70" height="15.20" fill="#3C50A8" />
<rect x="177.50" y="267.00" width="2.40" height="15.20" fill="#E88030" />
<rect x="178.90" y="267.00" width="7.90" height="15.20" fill="#A0D880" />
<rect x="185.80" y="267.00" width="7.40" height="15.20" fill="#B0D850" />
<rect x="192.20" y="267.00" width="19.50" height="15.20" fill="#80D8D0" />
<rect x="210.70" y="267.00" width="5.70" height="15.20" fill="#60C0E8" />
<rect x="215.40" y="267.00" width="9.10" height="15.20" fill="#4878C0" />
<rect x="223.50" y="267.00" width="42.30" height="15.20" fill="#2B3590" />
<rect x="264.80" y="267.00" width="8.50" height="15.20" fill="#70D8E0" />
<rect x="272.30" y="267.00" width="13.20" height="15.20" fill="#98D878" />
<rect x="284.50" y="267.00" width="35.00" height="15.20" fill="#80D8C0" />
<rect x="177.50" y="281.20" width="2.50" height="15.20" fill="#C02820" />
<rect x="179.00" y="281.20" width="3.00" height="15.20" fill="#F0A030" />
<rect x="181.00" y="281.20" width="3.70" height="15.20" fill="#F08030" />
<rect x="183.70" y="281.20" width="3.60" height="15.20" fill="#F0A030" />
<rect x="186.30" y="281.20" width="2.20" height="15.20" fill="#F08030" />
<rect x="187.50" y="281.20" width="3.50" height="15.20" fill="#F09838" />
<rect x="190.00" y="281.20" width="3.00" height="15.20" fill="#F07030" />
<rect x="192.00" y="281.20" width="21.00" height="15.20" fill="#F03A20" />
<rect x="212.00" y="281.20" width="4.20" height="15.20" fill="#E8C040" />
<rect x="215.20" y="281.20" width="5.20" height="15.20" fill="#F0E040" />
<rect x="219.40" y="281.20" width="5.20" height="15.20" fill="#F0D040" />
<rect x="223.60" y="281.20" width="4.30" height="15.20" fill="#A0D880" />
<rect x="226.90" y="281.20" width="6.00" height="15.20" fill="#4878C0" />
<rect x="231.90" y="281.20" width="4.30" height="15.20" fill="#60B0E0" />
<rect x="235.20" y="281.20" width="30.90" height="15.20" fill="#4060B8" />
<rect x="265.10" y="281.20" width="7.70" height="15.20" fill="#F08030" />
<rect x="271.80" y="281.20" width="14.20" height="15.20" fill="#E83828" />
<rect x="285.00" y="281.20" width="34.50" height="15.20" fill="#F04028" />
<rect x="177.50" y="295.40" width="4.10" height="15.20" fill="#60B8E0" />
<rect x="180.60" y="295.40" width="6.70" height="15.20" fill="#4060B8" />
<rect x="186.30" y="295.40" width="3.10" height="15.20" fill="#60C0E8" />
<rect x="188.40" y="295.40" width="5.40" height="15.20" fill="#4060B8" />
<rect x="192.80" y="295.40" width="20.20" height="15.20" fill="#C0E040" />
<rect x="212.00" y="295.40" width="2.60" height="15.20" fill="#E8A040" />
<rect x="213.60" y="295.40" width="9.40" height="15.20" fill="#B0D850" />
<rect x="222.00" y="295.40" width="7.50" height="15.20" fill="#A0D870" />
<rect x="228.50" y="295.40" width="25.20" height="15.20" fill="#B0D850" />
<rect x="252.70" y="295.40" width="10.90" height="15.20" fill="#E8F040" />
<rect x="262.60" y="295.40" width="3.50" height="15.20" fill="#B0D850" />
<rect x="265.10" y="295.40" width="7.70" height="15.20" fill="#60C8E8" />
<rect x="271.80" y="295.40" width="13.50" height="15.20" fill="#4878C0" />
<rect x="284.30" y="295.40" width="35.20" height="15.20" fill="#4468B8" />
<rect x="177.50" y="309.60" width="3.80" height="15.20" fill="#4878C0" />
<rect x="180.30" y="309.60" width="6.80" height="15.20" fill="#60D0E8" />
<rect x="186.10" y="309.60" width="3.50" height="15.20" fill="#4878C0" />
<rect x="188.60" y="309.60" width="5.20" height="15.20" fill="#60B0E0" />
<rect x="192.80" y="309.60" width="20.20" height="15.20" fill="#80D8C8" />
<rect x="212.00" y="309.60" width="6.00" height="15.20" fill="#90D8A0" />
<rect x="217.00" y="309.60" width="30.00" height="15.20" fill="#80D8C8" />
<rect x="246.00" y="309.60" width="20.10" height="15.20" fill="#90D890" />
<rect x="265.10" y="309.60" width="54.40" height="15.20" fill="#4060B8" />
<rect x="177.50" y="323.80" width="3.80" height="14.20" fill="#3850A8" />
<rect x="180.30" y="323.80" width="6.80" height="14.20" fill="#4878C0" />
<rect x="186.10" y="323.80" width="3.50" height="14.20" fill="#60C8E8" />
<rect x="188.60" y="323.80" width="24.40" height="14.20" fill="#4878C0" />
<rect x="212.00" y="323.80" width="2.60" height="14.20" fill="#C0D860" />
<rect x="213.60" y="323.80" width="11.00" height="14.20" fill="#4878C0" />
<rect x="223.60" y="323.80" width="4.30" height="14.20" fill="#60C8E8" />
<rect x="226.90" y="323.80" width="4.30" height="14.20" fill="#4878C0" />
<rect x="230.20" y="323.80" width="4.30" height="14.20" fill="#60C8E8" />
<rect x="233.50" y="323.80" width="20.20" height="14.20" fill="#4878C0" />
<rect x="252.70" y="323.80" width="10.90" height="14.20" fill="#60C8E8" />
<rect x="262.60" y="323.80" width="11.00" height="14.20" fill="#4878C0" />
<rect x="272.60" y="323.80" width="12.70" height="14.20" fill="#2B3590" />
<rect x="284.30" y="323.80" width="35.20" height="14.20" fill="#4060B8" />
<rect x="177.5" y="196.0" width="142.0" height="142.0" fill="none" stroke="#222" stroke-width="0.8"/>
<rect x="178.0" y="281.2" width="141.0" height="14.199999999999989" fill="none" stroke="#fff" stroke-width="1.2" stroke-dasharray="2.6,3.4"/>
<text x="175.3" y="349.7" font-size="10.6" text-anchor="middle" font-weight="normal" fill="#000" >0</text>
<text x="246.7" y="349.7" font-size="10.6" text-anchor="middle" font-weight="normal" fill="#000" >15</text>
<text x="317" y="349.7" font-size="10.6" text-anchor="middle" font-weight="normal" fill="#000" >30</text>
<text x="247.3" y="361.4" font-size="12.5" text-anchor="middle" font-weight="normal" fill="#000" >Time (s)</text>
<text x="0" y="0" font-size="10" text-anchor="end" font-weight="normal" fill="#000" transform="translate(172.3,196.2) rotate(-90)">Proximal</text>
<text x="0" y="0" font-size="10.4" text-anchor="start" font-weight="normal" fill="#000" transform="translate(172.3,339.2) rotate(-90)">Distal</text>
<text x="0" y="0" font-size="14.8" text-anchor="middle" font-weight="normal" fill="#000" transform="translate(159.8,267.3) rotate(-90) scale(0.89,1)">Sensors</text>
<rect x="354.40" y="196.00" width="142.00" height="142.20" fill="#5DADE0" />
<rect x="354.40" y="196.00" width="15.20" height="11.16" fill="#E6EE40" />
<rect x="368.60" y="196.00" width="8.10" height="11.16" fill="#F0B040" />
<rect x="375.70" y="196.00" width="8.10" height="11.16" fill="#F08832" />
<rect x="382.80" y="196.00" width="8.10" height="11.16" fill="#EE3226" />
<rect x="389.90" y="196.00" width="8.10" height="11.16" fill="#D83030" />
<rect x="397.00" y="196.00" width="8.10" height="11.16" fill="#84D8C8" />
<rect x="404.10" y="196.00" width="22.30" height="11.16" fill="#5DADE0" />
<rect x="425.40" y="196.00" width="8.10" height="11.16" fill="#66CCEE" />
<rect x="432.50" y="196.00" width="8.10" height="11.16" fill="#84D8C8" />
<rect x="439.60" y="196.00" width="8.10" height="11.16" fill="#C4E048" />
<rect x="446.70" y="196.00" width="8.10" height="11.16" fill="#E6EE40" />
<rect x="453.80" y="196.00" width="8.10" height="11.16" fill="#F08832" />
<rect x="460.90" y="196.00" width="8.10" height="11.16" fill="#F05A2E" />
<rect x="468.00" y="196.00" width="8.10" height="11.16" fill="#EE3226" />
<rect x="475.10" y="196.00" width="15.20" height="11.16" fill="#D83030" />
<rect x="489.30" y="196.00" width="7.10" height="11.16" fill="#5DADE0" />
<rect x="354.40" y="206.16" width="22.30" height="11.16" fill="#E6EE40" />
<rect x="375.70" y="206.16" width="8.10" height="11.16" fill="#F08832" />
<rect x="382.80" y="206.16" width="15.20" height="11.16" fill="#EE3226" />
<rect x="397.00" y="206.16" width="8.10" height="11.16" fill="#84D8C8" />
<rect x="404.10" y="206.16" width="8.10" height="11.16" fill="#5DADE0" />
<rect x="411.20" y="206.16" width="22.30" height="11.16" fill="#66CCEE" />
<rect x="432.50" y="206.16" width="8.10" height="11.16" fill="#84D8C8" />
<rect x="439.60" y="206.16" width="8.10" height="11.16" fill="#9CD888" />
<rect x="446.70" y="206.16" width="8.10" height="11.16" fill="#E6EE40" />
<rect x="453.80" y="206.16" width="8.10" height="11.16" fill="#F08832" />
<rect x="460.90" y="206.16" width="8.10" height="11.16" fill="#EE3226" />
<rect x="468.00" y="206.16" width="8.10" height="11.16" fill="#8E1C1C" />
<rect x="475.10" y="206.16" width="15.20" height="11.16" fill="#EE3226" />
<rect x="489.30" y="206.16" width="7.10" height="11.16" fill="#5DADE0" />
<rect x="354.40" y="216.31" width="8.10" height="11.16" fill="#5DADE0" />
<rect x="361.50" y="216.31" width="15.20" height="11.16" fill="#E6EE40" />
<rect x="375.70" y="216.31" width="8.10" height="11.16" fill="#F08832" />
<rect x="382.80" y="216.31" width="8.10" height="11.16" fill="#EE3226" />
<rect x="389.90" y="216.31" width="8.10" height="11.16" fill="#F08832" />
<rect x="397.00" y="216.31" width="8.10" height="11.16" fill="#9CD888" />
<rect x="404.10" y="216.31" width="8.10" height="11.16" fill="#5DADE0" />
<rect x="411.20" y="216.31" width="8.10" height="11.16" fill="#66CCEE" />
<rect x="418.30" y="216.31" width="8.10" height="11.16" fill="#5DADE0" />
<rect x="425.40" y="216.31" width="8.10" height="11.16" fill="#66CCEE" />
<rect x="432.50" y="216.31" width="8.10" height="11.16" fill="#9CD888" />
<rect x="439.60" y="216.31" width="8.10" height="11.16" fill="#C4E048" />
<rect x="446.70" y="216.31" width="8.10" height="11.16" fill="#E6EE40" />
<rect x="453.80" y="216.31" width="8.10" height="11.16" fill="#F08832" />
<rect x="460.90" y="216.31" width="8.10" height="11.16" fill="#D83030" />
<rect x="468.00" y="216.31" width="8.10" height="11.16" fill="#8E1C1C" />
<rect x="475.10" y="216.31" width="8.10" height="11.16" fill="#D83030" />
<rect x="482.20" y="216.31" width="14.20" height="11.16" fill="#5DADE0" />
<rect x="354.40" y="226.47" width="8.10" height="11.16" fill="#5DADE0" />
<rect x="361.50" y="226.47" width="8.10" height="11.16" fill="#E6EE40" />
<rect x="368.60" y="226.47" width="8.10" height="11.16" fill="#F0B040" />
<rect x="375.70" y="226.47" width="8.10" height="11.16" fill="#F05A2E" />
<rect x="382.80" y="226.47" width="8.10" height="11.16" fill="#EE3226" />
<rect x="389.90" y="226.47" width="15.20" height="11.16" fill="#F0B040" />
<rect x="404.10" y="226.47" width="22.30" height="11.16" fill="#66CCEE" />
<rect x="425.40" y="226.47" width="8.10" height="11.16" fill="#84D8C8" />
<rect x="432.50" y="226.47" width="8.10" height="11.16" fill="#9CD888" />
<rect x="439.60" y="226.47" width="8.10" height="11.16" fill="#C4E048" />
<rect x="446.70" y="226.47" width="8.10" height="11.16" fill="#E6EE40" />
<rect x="453.80" y="226.47" width="8.10" height="11.16" fill="#F0B040" />
<rect x="460.90" y="226.47" width="22.30" height="11.16" fill="#EE3226" />
<rect x="482.20" y="226.47" width="14.20" height="11.16" fill="#5DADE0" />
<rect x="354.40" y="236.63" width="8.10" height="11.16" fill="#5DADE0" />
<rect x="361.50" y="236.63" width="8.10" height="11.16" fill="#E6EE40" />
<rect x="368.60" y="236.63" width="8.10" height="11.16" fill="#F0B040" />
<rect x="375.70" y="236.63" width="8.10" height="11.16" fill="#F08832" />
<rect x="382.80" y="236.63" width="8.10" height="11.16" fill="#F05A2E" />
<rect x="389.90" y="236.63" width="8.10" height="11.16" fill="#F0B040" />
<rect x="397.00" y="236.63" width="8.10" height="11.16" fill="#F05A2E" />
<rect x="404.10" y="236.63" width="8.10" height="11.16" fill="#E6EE40" />
<rect x="411.20" y="236.63" width="8.10" height="11.16" fill="#84D8C8" />
<rect x="418.30" y="236.63" width="8.10" height="11.16" fill="#66CCEE" />
<rect x="425.40" y="236.63" width="15.20" height="11.16" fill="#84D8C8" />
<rect x="439.60" y="236.63" width="8.10" height="11.16" fill="#9CD888" />
<rect x="446.70" y="236.63" width="8.10" height="11.16" fill="#E6EE40" />
<rect x="453.80" y="236.63" width="8.10" height="11.16" fill="#F0B040" />
<rect x="460.90" y="236.63" width="8.10" height="11.16" fill="#EE3226" />
<rect x="468.00" y="236.63" width="8.10" height="11.16" fill="#F05A2E" />
<rect x="475.10" y="236.63" width="21.30" height="11.16" fill="#5DADE0" />
<rect x="354.40" y="246.79" width="8.10" height="11.16" fill="#5DADE0" />
<rect x="361.50" y="246.79" width="15.20" height="11.16" fill="#E6EE40" />
<rect x="375.70" y="246.79" width="8.10" height="11.16" fill="#F0B040" />
<rect x="382.80" y="246.79" width="8.10" height="11.16" fill="#E6EE40" />
<rect x="389.90" y="246.79" width="8.10" height="11.16" fill="#F0B040" />
<rect x="397.00" y="246.79" width="8.10" height="11.16" fill="#F05A2E" />
<rect x="404.10" y="246.79" width="8.10" height="11.16" fill="#F0B040" />
<rect x="411.20" y="246.79" width="8.10" height="11.16" fill="#9CD888" />
<rect x="418.30" y="246.79" width="8.10" height="11.16" fill="#84D8C8" />
<rect x="425.40" y="246.79" width="8.10" height="11.16" fill="#9CD888" />
<rect x="432.50" y="246.79" width="8.10" height="11.16" fill="#C4E048" />
<rect x="439.60" y="246.79" width="8.10" height="11.16" fill="#9CD888" />
<rect x="446.70" y="246.79" width="8.10" height="11.16" fill="#E6EE40" />
<rect x="453.80" y="246.79" width="8.10" height="11.16" fill="#F08832" />
<rect x="460.90" y="246.79" width="15.20" height="11.16" fill="#F05A2E" />
<rect x="475.10" y="246.79" width="21.30" height="11.16" fill="#5DADE0" />
<rect x="354.40" y="256.94" width="15.20" height="11.16" fill="#5DADE0" />
<rect x="368.60" y="256.94" width="8.10" height="11.16" fill="#E6EE40" />
<rect x="375.70" y="256.94" width="8.10" height="11.16" fill="#F0B040" />
<rect x="382.80" y="256.94" width="8.10" height="11.16" fill="#9CD888" />
<rect x="389.90" y="256.94" width="8.10" height="11.16" fill="#F0B040" />
<rect x="397.00" y="256.94" width="15.20" height="11.16" fill="#EE3226" />
<rect x="411.20" y="256.94" width="8.10" height="11.16" fill="#F0B040" />
<rect x="418.30" y="256.94" width="8.10" height="11.16" fill="#9CD888" />
<rect x="425.40" y="256.94" width="8.10" height="11.16" fill="#84D8C8" />
<rect x="432.50" y="256.94" width="8.10" height="11.16" fill="#9CD888" />
<rect x="439.60" y="256.94" width="8.10" height="11.16" fill="#C4E048" />
<rect x="446.70" y="256.94" width="8.10" height="11.16" fill="#E6EE40" />
<rect x="453.80" y="256.94" width="8.10" height="11.16" fill="#F08832" />
<rect x="460.90" y="256.94" width="8.10" height="11.16" fill="#F05A2E" />
<rect x="468.00" y="256.94" width="28.40" height="11.16" fill="#5DADE0" />
<rect x="354.40" y="267.10" width="15.20" height="11.16" fill="#5DADE0" />
<rect x="368.60" y="267.10" width="15.20" height="11.16" fill="#E6EE40" />
<rect x="382.80" y="267.10" width="8.10" height="11.16" fill="#9CD888" />
<rect x="389.90" y="267.10" width="15.20" height="11.16" fill="#F0B040" />
<rect x="404.10" y="267.10" width="8.10" height="11.16" fill="#EE3226" />
<rect x="411.20" y="267.10" width="8.10" height="11.16" fill="#8E1C1C" />
<rect x="418.30" y="267.10" width="8.10" height="11.16" fill="#F0B040" />
<rect x="425.40" y="267.10" width="8.10" height="11.16" fill="#C4E048" />
<rect x="432.50" y="267.10" width="8.10" height="11.16" fill="#9CD888" />
<rect x="439.60" y="267.10" width="8.10" height="11.16" fill="#E6EE40" />
<rect x="446.70" y="267.10" width="8.10" height="11.16" fill="#F0B040" />
<rect x="453.80" y="267.10" width="8.10" height="11.16" fill="#F08832" />
<rect x="460.90" y="267.10" width="8.10" height="11.16" fill="#F0B040" />
<rect x="468.00" y="267.10" width="28.40" height="11.16" fill="#5DADE0" />
<rect x="354.40" y="277.26" width="22.30" height="11.16" fill="#5DADE0" />
<rect x="375.70" y="277.26" width="8.10" height="11.16" fill="#66CCEE" />
<rect x="382.80" y="277.26" width="8.10" height="11.16" fill="#84D8C8" />
<rect x="389.90" y="277.26" width="8.10" height="11.16" fill="#C4E048" />
<rect x="397.00" y="277.26" width="8.10" height="11.16" fill="#9CD888" />
<rect x="404.10" y="277.26" width="8.10" height="11.16" fill="#F0B040" />
<rect x="411.20" y="277.26" width="15.20" height="11.16" fill="#EE3226" />
<rect x="425.40" y="277.26" width="15.20" height="11.16" fill="#C4E048" />
<rect x="439.60" y="277.26" width="15.20" height="11.16" fill="#F0B040" />
<rect x="453.80" y="277.26" width="8.10" height="11.16" fill="#F05A2E" />
<rect x="460.90" y="277.26" width="8.10" height="11.16" fill="#E6EE40" />
<rect x="468.00" y="277.26" width="28.40" height="11.16" fill="#5DADE0" />
<rect x="354.40" y="287.41" width="29.40" height="11.16" fill="#5DADE0" />
<rect x="382.80" y="287.41" width="8.10" height="11.16" fill="#66CCEE" />
<rect x="389.90" y="287.41" width="8.10" height="11.16" fill="#9CD888" />
<rect x="397.00" y="287.41" width="8.10" height="11.16" fill="#84D8C8" />
<rect x="404.10" y="287.41" width="8.10" height="11.16" fill="#E6EE40" />
<rect x="411.20" y="287.41" width="8.10" height="11.16" fill="#EE3226" />
<rect x="418.30" y="287.41" width="8.10" height="11.16" fill="#F05A2E" />
<rect x="425.40" y="287.41" width="8.10" height="11.16" fill="#F08832" />
<rect x="432.50" y="287.41" width="8.10" height="11.16" fill="#E6EE40" />
<rect x="439.60" y="287.41" width="8.10" height="11.16" fill="#F08832" />
<rect x="446.70" y="287.41" width="8.10" height="11.16" fill="#F05A2E" />
<rect x="453.80" y="287.41" width="8.10" height="11.16" fill="#F0B040" />
<rect x="460.90" y="287.41" width="35.50" height="11.16" fill="#5DADE0" />
<rect x="354.40" y="297.57" width="36.50" height="11.16" fill="#5DADE0" />
<rect x="389.90" y="297.57" width="8.10" height="11.16" fill="#9CD888" />
<rect x="397.00" y="297.57" width="8.10" height="11.16" fill="#84D8C8" />
<rect x="404.10" y="297.57" width="8.10" height="11.16" fill="#E6EE40" />
<rect x="411.20" y="297.57" width="8.10" height="11.16" fill="#F0B040" />
<rect x="418.30" y="297.57" width="15.20" height="11.16" fill="#F05A2E" />
<rect x="432.50" y="297.57" width="15.20" height="11.16" fill="#F0B040" />
<rect x="446.70" y="297.57" width="8.10" height="11.16" fill="#F08832" />
<rect x="453.80" y="297.57" width="42.60" height="11.16" fill="#5DADE0" />
<rect x="354.40" y="307.73" width="36.50" height="11.16" fill="#5DADE0" />
<rect x="389.90" y="307.73" width="8.10" height="11.16" fill="#66CCEE" />
<rect x="397.00" y="307.73" width="8.10" height="11.16" fill="#9CD888" />
<rect x="404.10" y="307.73" width="8.10" height="11.16" fill="#C4E048" />
<rect x="411.20" y="307.73" width="8.10" height="11.16" fill="#F0B040" />
<rect x="418.30" y="307.73" width="15.20" height="11.16" fill="#F05A2E" />
<rect x="432.50" y="307.73" width="8.10" height="11.16" fill="#F0B040" />
<rect x="439.60" y="307.73" width="8.10" height="11.16" fill="#84D8C8" />
<rect x="446.70" y="307.73" width="49.70" height="11.16" fill="#5DADE0" />
<rect x="354.40" y="317.89" width="36.50" height="11.16" fill="#5DADE0" />
<rect x="389.90" y="317.89" width="8.10" height="11.16" fill="#66CCEE" />
<rect x="397.00" y="317.89" width="15.20" height="11.16" fill="#84D8C8" />
<rect x="411.20" y="317.89" width="8.10" height="11.16" fill="#C4E048" />
<rect x="418.30" y="317.89" width="8.10" height="11.16" fill="#F0B040" />
<rect x="425.40" y="317.89" width="8.10" height="11.16" fill="#EE3226" />
<rect x="432.50" y="317.89" width="8.10" height="11.16" fill="#C4E048" />
<rect x="439.60" y="317.89" width="8.10" height="11.16" fill="#9CD888" />
<rect x="446.70" y="317.89" width="49.70" height="11.16" fill="#5DADE0" />
<rect x="354.40" y="328.04" width="43.60" height="10.16" fill="#5DADE0" />
<rect x="397.00" y="328.04" width="8.10" height="10.16" fill="#66CCEE" />
<rect x="404.10" y="328.04" width="15.20" height="10.16" fill="#84D8C8" />
<rect x="418.30" y="328.04" width="8.10" height="10.16" fill="#9CD888" />
<rect x="425.40" y="328.04" width="8.10" height="10.16" fill="#E6EE40" />
<rect x="432.50" y="328.04" width="8.10" height="10.16" fill="#C4E048" />
<rect x="439.60" y="328.04" width="8.10" height="10.16" fill="#84D8C8" />
<rect x="446.70" y="328.04" width="49.70" height="10.16" fill="#5DADE0" />
<rect x="354.4" y="196.0" width="142.0" height="142.2" fill="none" stroke="#222" stroke-width="0.8"/>
<text x="353.8" y="349.6" font-size="10.6" text-anchor="middle" font-weight="normal" fill="#000" >0</text>
<text x="425.4" y="349.6" font-size="10.6" text-anchor="middle" font-weight="normal" fill="#000" >6</text>
<text x="496.2" y="349.6" font-size="10.6" text-anchor="middle" font-weight="normal" fill="#000" >12</text>
<text x="425.2" y="361.2" font-size="12.5" text-anchor="middle" font-weight="normal" fill="#000" >Time (s)</text>
<path d="M193.7,14.3 v1.6 M193.7,196.0 v1.6 M209.9,14.3 v1.6 M209.9,196.0 v1.6 M226.1,14.3 v1.6 M226.1,196.0 v1.6 M242.3,14.3 v1.6 M242.3,196.0 v1.6 M258.5,14.3 v1.6 M258.5,196.0 v1.6 M274.7,14.3 v1.6 M274.7,196.0 v1.6 M290.9,14.3 v1.6 M290.9,196.0 v1.6 M307.1,14.3 v1.6 M307.1,196.0 v1.6 M177.5,25.2 h1.5 M319.5,25.2 h-1.5 M177.5,36.1 h1.5 M319.5,36.1 h-1.5 M177.5,47.1 h1.5 M319.5,47.1 h-1.5 M177.5,58.0 h1.5 M319.5,58.0 h-1.5 M177.5,68.9 h1.5 M319.5,68.9 h-1.5 M177.5,79.8 h1.5 M319.5,79.8 h-1.5 M177.5,90.8 h1.5 M319.5,90.8 h-1.5 M177.5,101.7 h1.5 M319.5,101.7 h-1.5 M177.5,112.6 h1.5 M319.5,112.6 h-1.5 M177.5,123.5 h1.5 M319.5,123.5 h-1.5 M177.5,134.5 h1.5 M319.5,134.5 h-1.5 M177.5,145.4 h1.5 M319.5,145.4 h-1.5 M177.5,210.2 h1.5 M319.5,210.2 h-1.5 M177.5,224.4 h1.5 M319.5,224.4 h-1.5 M177.5,238.6 h1.5 M319.5,238.6 h-1.5 M177.5,252.8 h1.5 M319.5,252.8 h-1.5 M177.5,267.0 h1.5 M319.5,267.0 h-1.5 M177.5,281.2 h1.5 M319.5,281.2 h-1.5 M177.5,295.4 h1.5 M319.5,295.4 h-1.5 M177.5,309.6 h1.5 M319.5,309.6 h-1.5 M177.5,323.8 h1.5 M319.5,323.8 h-1.5 M368.6,338.2 v-1.6 M368.6,196.0 v1.6 M382.8,338.2 v-1.6 M382.8,196.0 v1.6 M397.0,338.2 v-1.6 M397.0,196.0 v1.6 M411.2,338.2 v-1.6 M411.2,196.0 v1.6 M425.4,338.2 v-1.6 M425.4,196.0 v1.6 M439.6,338.2 v-1.6 M439.6,196.0 v1.6 M453.8,338.2 v-1.6 M453.8,196.0 v1.6 M468.0,338.2 v-1.6 M468.0,196.0 v1.6 M482.2,338.2 v-1.6 M482.2,196.0 v1.6 M354.4,216.3 h1.5 M496.4,216.3 h-1.5 M354.4,236.6 h1.5 M496.4,236.6 h-1.5 M354.4,256.9 h1.5 M496.4,256.9 h-1.5 M354.4,277.3 h1.5 M496.4,277.3 h-1.5 M354.4,297.6 h1.5 M496.4,297.6 h-1.5 M354.4,317.9 h1.5 M496.4,317.9 h-1.5" stroke="#222" stroke-width="0.7" fill="none"/>
<line x1="354.6" y1="12.8" x2="354.6" y2="155" stroke="#222" stroke-width="0.9"/>
<line x1="354.2" y1="154.5" x2="373" y2="154.5" stroke="#2a2a30" stroke-width="1.3"/>
<line x1="372.5" y1="154.5" x2="500.2" y2="154.5" stroke="#2A4488" stroke-width="1.4"/>
<path d="M354.60,26.20 L356.20,26.10 L357.80,26.38 L359.40,26.06 L361.00,26.32 L362.60,26.22 L364.20,26.05 L365.80,26.30 L367.40,26.04 L369.00,26.26 L370.60,26.06 L372.60,26.30 L374.20,24.80 L375.60,18.80 L376.60,18.00 L377.80,21.80 L379.00,21.40 L380.20,22.50 L382.00,24.70 L384.00,25.90 L385.00,26.24 L386.60,26.57 L388.20,26.05 L389.80,26.50 L391.40,26.18 L393.00,26.10 L394.60,26.09 L396.20,26.19 L397.80,26.48 L399.40,26.12 L401.00,26.35 L402.60,26.38 L404.20,26.23 L405.50,25.00 L406.80,26.30 L409.00,26.05 L410.60,26.14 L412.20,26.40 L413.80,26.26 L415.40,26.20 L417.00,26.35 L418.60,26.27 L420.20,26.19 L421.80,26.46 L423.40,26.41 L425.00,26.16 L426.60,26.34 L428.20,26.31 L429.80,26.51 L431.40,26.43 L433.00,26.18 L434.60,26.57 L436.20,26.09 L437.80,26.25 L439.40,26.44 L441.00,26.11 L442.60,26.29 L444.20,26.04 L445.80,26.39 L447.40,26.45 L449.00,26.34 L450.60,26.51 L452.20,26.20 L453.80,26.41 L455.40,26.35 L457.00,26.34 L458.60,26.28 L460.20,26.49 L461.80,26.55 L463.40,26.29 L465.00,26.39 L466.60,26.05 L468.20,26.41 L469.80,26.38 L471.40,26.58 L473.00,26.48 L474.60,26.18 L476.20,26.24 L477.80,26.39 L479.40,26.03 L481.00,26.28 L482.60,26.11 L484.20,26.09 L485.80,26.05 L487.40,26.45 L489.00,26.09 L490.60,26.16 L492.20,26.24 L493.80,26.51 L495.40,26.07 L497.00,26.27 L498.60,26.33 L500.20,26.51" fill="none" stroke="#222" stroke-width="0.95" stroke-linejoin="round"/>
<path d="M354.60,46.48 L356.20,46.50 L357.80,46.18 L359.40,46.25 L361.00,46.22 L362.60,46.52 L364.20,46.56 L365.80,46.10 L367.40,46.12 L369.00,46.15 L370.60,46.15 L372.20,46.29 L373.80,46.35 L375.40,46.17 L377.00,46.02 L378.60,46.25 L380.20,46.23 L381.80,46.34 L383.40,46.55 L385.00,46.41 L386.60,46.31 L388.20,46.37 L389.80,46.40 L391.10,46.30 L392.30,39.80 L393.60,38.30 L395.40,38.30 L396.40,42.30 L397.40,45.70 L399.40,46.24 L401.00,46.24 L402.60,46.08 L404.20,46.38 L405.80,46.05 L407.40,46.06 L409.00,46.14 L410.60,46.11 L412.20,46.21 L413.80,46.05 L415.40,46.02 L417.00,46.10 L418.60,46.08 L420.20,46.22 L421.80,46.03 L423.40,46.51 L425.00,46.36 L426.60,46.10 L428.20,46.16 L429.80,46.21 L431.40,46.22 L433.00,46.09 L434.60,46.50 L436.20,46.58 L437.80,46.28 L439.40,46.29 L441.00,46.07 L442.60,46.08 L444.20,46.21 L445.80,46.17 L447.40,46.48 L449.00,46.11 L450.60,46.03 L452.20,46.55 L453.80,46.32 L455.40,46.10 L457.00,46.32 L458.60,46.04 L460.20,46.32 L461.80,46.57 L463.40,46.50 L465.00,46.41 L466.60,46.17 L468.20,46.23 L469.80,46.11 L471.40,46.45 L473.00,46.32 L474.60,46.46 L476.20,46.20 L477.80,46.14 L479.40,46.47 L481.00,46.57 L482.60,46.50 L484.20,46.47 L485.80,46.48 L487.40,46.43 L489.00,46.15 L490.60,46.31 L492.20,46.22 L493.80,46.04 L495.40,46.04 L497.00,46.18 L498.60,46.17 L500.20,46.41" fill="none" stroke="#222" stroke-width="0.95" stroke-linejoin="round"/>
<path d="M354.60,65.96 L356.20,65.67 L357.80,65.94 L359.40,65.97 L361.00,65.95 L362.60,65.62 L364.20,65.54 L365.80,65.55 L367.40,65.53 L369.00,65.53 L370.60,65.77 L372.20,65.92 L373.80,65.89 L375.40,65.69 L377.00,65.79 L378.60,65.87 L380.20,65.47 L381.80,65.79 L383.40,65.93 L385.00,65.86 L386.60,65.84 L388.20,65.69 L389.80,65.52 L391.40,65.86 L393.00,65.61 L394.60,65.87 L396.20,65.96 L397.80,65.64 L399.40,65.64 L401.00,65.95 L402.60,65.83 L404.20,65.52 L405.80,65.49 L407.40,65.50 L409.30,65.70 L410.60,63.20 L412.20,60.50 L413.40,60.10 L414.60,62.50 L416.00,63.40 L417.50,64.70 L419.00,65.50 L420.20,65.73 L421.80,65.49 L423.40,65.43 L425.00,65.96 L426.60,65.78 L428.20,65.71 L429.80,65.94 L431.40,65.66 L433.00,65.91 L434.60,65.88 L436.20,65.54 L437.80,65.56 L439.40,65.58 L441.00,65.55 L442.60,65.75 L444.20,65.57 L445.80,65.65 L447.40,65.49 L449.00,65.93 L450.60,65.62 L452.20,65.68 L453.80,65.75 L455.40,65.93 L457.00,65.66 L458.60,65.93 L460.20,65.70 L461.80,65.72 L463.40,65.71 L465.00,65.43 L466.60,65.67 L468.20,65.52 L469.80,65.42 L471.40,65.87 L473.00,65.52 L474.60,65.69 L476.20,65.83 L477.80,65.73 L479.40,65.60 L481.00,65.71 L483.50,64.50 L484.50,65.50 L485.80,65.48 L487.40,65.73 L489.00,65.56 L490.60,65.58 L492.20,65.85 L493.80,65.70 L495.40,65.73 L497.00,65.85 L498.60,65.93 L500.20,65.67" fill="none" stroke="#222" stroke-width="0.95" stroke-linejoin="round"/>
<path d="M354.60,86.56 L356.20,86.50 L357.80,86.51 L359.40,86.61 L361.00,86.47 L362.60,86.52 L364.20,86.49 L365.80,86.75 L367.40,86.61 L369.00,86.71 L370.60,86.75 L372.20,86.37 L373.80,86.53 L375.40,86.75 L377.00,86.69 L378.60,86.30 L380.20,86.29 L381.80,86.47 L383.40,86.26 L385.00,86.35 L386.60,86.26 L388.20,86.59 L389.80,86.66 L391.40,86.72 L393.00,86.31 L394.60,86.62 L396.20,86.59 L397.80,86.30 L399.40,86.71 L401.00,86.76 L402.60,86.34 L404.20,86.75 L405.80,86.44 L407.40,86.49 L409.00,86.77 L410.60,86.69 L412.20,86.31 L413.80,86.46 L415.40,86.51 L417.00,86.41 L418.60,86.33 L420.20,86.40 L421.80,86.62 L423.40,86.23 L425.00,86.53 L427.40,86.50 L428.80,83.00 L430.00,81.50 L432.50,81.90 L434.20,83.30 L435.30,86.20 L436.20,86.77 L437.80,86.66 L439.40,86.76 L441.00,86.28 L442.60,86.37 L444.20,86.24 L445.80,86.66 L447.40,86.37 L449.00,86.29 L450.60,86.46 L452.20,86.73 L453.80,86.68 L455.40,86.36 L457.00,86.30 L458.60,86.73 L460.20,86.54 L461.80,86.61 L463.40,86.27 L465.00,86.25 L466.60,86.61 L468.20,86.46 L469.80,86.26 L471.40,86.75 L473.00,86.58 L474.60,86.67 L476.20,86.27 L477.80,86.70 L479.40,86.26 L481.00,86.70 L482.60,86.47 L484.20,86.41 L485.80,86.53 L487.40,86.74 L489.00,86.37 L490.60,86.29 L492.20,86.52 L493.80,86.35 L495.40,86.28 L497.00,86.31 L498.60,86.25 L500.20,86.33" fill="none" stroke="#222" stroke-width="0.95" stroke-linejoin="round"/>
<path d="M354.60,106.19 L356.20,106.19 L357.80,106.45 L359.40,106.18 L361.00,106.30 L362.60,106.12 L364.20,106.21 L365.80,106.03 L367.40,106.16 L369.00,106.03 L370.60,106.43 L372.20,106.33 L373.80,106.13 L375.40,106.29 L377.00,106.54 L378.60,106.08 L380.20,106.48 L381.80,106.26 L383.40,106.30 L385.00,106.49 L386.60,106.24 L388.20,106.30 L389.80,106.41 L391.40,106.57 L393.00,106.21 L394.60,106.49 L396.20,106.42 L397.80,106.38 L399.40,106.25 L401.00,106.21 L402.60,106.05 L404.20,106.09 L405.80,106.06 L407.40,106.43 L409.00,106.16 L410.60,106.11 L412.20,106.07 L413.80,106.49 L415.40,106.51 L417.00,106.40 L418.60,106.18 L420.20,106.16 L421.80,106.18 L423.40,106.28 L425.00,106.11 L426.60,106.27 L428.20,106.17 L429.80,106.56 L431.40,106.56 L433.00,106.33 L434.60,106.16 L436.20,106.56 L437.80,106.19 L439.40,106.22 L441.00,106.02 L442.60,106.23 L444.20,106.29 L445.60,106.30 L446.60,102.80 L447.50,97.80 L448.30,95.90 L449.20,96.70 L450.00,100.30 L450.80,103.30 L451.60,105.10 L452.40,106.10 L453.80,106.07 L455.40,106.24 L457.00,106.04 L458.60,106.03 L460.20,106.19 L461.80,106.15 L463.40,106.35 L465.00,106.32 L466.60,106.44 L468.20,106.39 L469.80,106.42 L471.40,106.51 L473.00,106.24 L474.60,106.20 L476.20,106.57 L477.80,106.10 L479.40,106.43 L481.00,106.38 L482.60,106.04 L484.20,106.49 L485.80,106.52 L487.40,106.37 L489.00,106.43 L490.60,106.47 L492.20,106.10 L493.80,106.31 L495.40,106.30 L497.00,106.49 L498.60,106.47 L500.20,106.48" fill="none" stroke="#222" stroke-width="0.95" stroke-linejoin="round"/>
<path d="M354.60,126.55 L356.20,126.72 L357.80,126.60 L359.40,126.61 L361.00,126.35 L362.60,126.24 L364.20,126.29 L365.80,126.42 L367.40,126.28 L369.00,126.69 L370.60,126.53 L372.20,126.57 L373.80,126.57 L375.40,126.60 L377.00,126.49 L378.60,126.22 L380.20,126.67 L381.80,126.64 L383.40,126.50 L385.00,126.52 L386.60,126.59 L388.20,126.26 L389.80,126.63 L391.40,126.36 L393.00,126.26 L394.60,126.37 L396.20,126.63 L397.80,126.33 L399.40,126.63 L401.00,126.77 L402.60,126.50 L404.20,126.43 L405.80,126.49 L407.40,126.60 L409.00,126.65 L410.60,126.57 L412.20,126.58 L413.80,126.26 L415.40,126.30 L417.00,126.36 L418.60,126.64 L420.20,126.39 L421.80,126.54 L423.40,126.23 L425.00,126.25 L426.60,126.37 L428.20,126.60 L429.80,126.61 L431.40,126.60 L433.00,126.38 L434.60,126.51 L436.20,126.48 L437.80,126.48 L439.40,126.29 L441.00,126.72 L442.60,126.33 L444.20,126.77 L445.80,126.74 L447.40,126.23 L449.00,126.48 L450.60,126.68 L452.20,126.76 L453.80,126.47 L455.40,126.37 L457.00,126.34 L458.60,126.75 L460.20,126.34 L461.80,126.55 L463.90,126.50 L465.30,125.00 L466.50,122.00 L467.60,119.30 L468.80,118.30 L470.00,119.50 L471.20,123.50 L472.20,126.20 L474.60,126.61 L476.20,126.35 L477.80,126.72 L479.40,126.49 L481.00,126.23 L482.60,126.22 L484.20,126.50 L485.80,126.47 L487.40,126.39 L489.00,126.30 L490.60,126.41 L492.20,126.40 L493.80,126.69 L495.40,126.22 L497.00,126.64 L498.60,126.69 L500.20,126.29" fill="none" stroke="#222" stroke-width="0.95" stroke-linejoin="round"/>
<path d="M354.60,147.44 L356.50,146.40 L357.80,145.80 L359.00,146.90 L361.00,147.13 L362.60,147.14 L364.20,147.48 L365.80,147.25 L367.40,147.12 L369.00,147.16 L370.60,147.07 L372.20,146.95 L373.80,146.98 L375.40,147.39 L377.00,147.08 L378.60,147.44 L380.20,147.06 L381.80,147.07 L383.40,147.21 L385.00,147.03 L386.60,147.13 L388.20,147.46 L389.80,147.42 L391.40,147.37 L393.00,147.27 L394.60,147.43 L396.20,147.45 L397.80,147.23 L399.40,147.32 L401.00,146.95 L402.60,147.33 L404.20,147.17 L405.80,147.34 L407.40,147.28 L409.00,147.08 L410.60,146.95 L412.20,147.44 L413.80,146.99 L415.40,147.18 L417.00,147.11 L418.60,147.09 L420.20,147.33 L421.80,147.47 L423.40,147.07 L425.00,147.29 L426.60,147.09 L428.20,147.23 L429.80,147.14 L431.40,147.01 L433.00,147.01 L434.60,147.04 L436.20,147.43 L437.80,147.20 L439.40,147.04 L441.00,147.43 L442.60,147.48 L444.20,147.17 L445.80,147.00 L447.40,147.03 L449.00,146.97 L450.60,147.11 L452.20,146.97 L453.80,147.05 L455.40,147.06 L457.00,147.24 L458.60,147.42 L460.20,147.34 L461.80,147.15 L463.40,147.15 L465.00,147.21 L466.60,147.13 L468.20,147.11 L469.80,146.95 L471.40,147.08 L473.00,147.46 L474.50,146.30 L475.80,145.80 L477.00,146.90 L479.40,147.40 L481.00,147.04 L482.30,147.20 L484.00,145.40 L486.00,143.70 L488.00,141.70 L489.80,140.20 L490.80,142.20 L491.80,145.70 L492.80,146.90 L494.20,144.60 L495.20,144.80 L496.20,146.40 L497.20,146.80 L498.40,145.70 L499.60,146.30" fill="none" stroke="#222" stroke-width="0.95" stroke-linejoin="round"/>
<rect x="371.40" y="14.30" width="2.50" height="19.60" fill="#3253A5" />
<rect x="389.90" y="34.40" width="2.50" height="19.60" fill="#3253A5" />
<rect x="408.10" y="53.70" width="2.50" height="19.60" fill="#3253A5" />
<rect x="426.20" y="74.50" width="2.50" height="19.60" fill="#3253A5" />
<rect x="444.40" y="94.30" width="2.50" height="19.60" fill="#3253A5" />
<rect x="462.70" y="114.50" width="2.50" height="19.60" fill="#3253A5" />
<rect x="481.10" y="135.20" width="2.50" height="19.60" fill="#3253A5" />
<path d="M359.4,69.6 H362.6 M361,69.6 V83 M359.4,83 H362.6" stroke="#8c8c8c" stroke-width="0.9" fill="none"/>
<text x="364" y="80.2" font-size="10" text-anchor="start" font-weight="normal" fill="#000" >2.5mV</text>
<text x="358.5" y="142.3" font-size="13" text-anchor="start" font-weight="normal" fill="#3A5BA8" >Stim</text>
<text x="353.3" y="167.4" font-size="10.6" text-anchor="middle" font-weight="normal" fill="#000" >0</text>
<text x="425.2" y="167.4" font-size="10.6" text-anchor="middle" font-weight="normal" fill="#000" >5</text>
<text x="496.4" y="167.4" font-size="10.6" text-anchor="middle" font-weight="normal" fill="#000" >10</text>
<text x="425" y="177.3" font-size="12.5" text-anchor="middle" font-weight="normal" fill="#000" >Time (s)</text>
<text x="0" y="0" font-size="10" text-anchor="end" font-weight="normal" fill="#000" transform="translate(350.1,13.3) rotate(-90)">Proximal</text>
<text x="0" y="0" font-size="10.4" text-anchor="start" font-weight="normal" fill="#000" transform="translate(349.9,156.6) rotate(-90)">Distal</text>
<text x="0" y="0" font-size="14.8" text-anchor="middle" font-weight="normal" fill="#000" transform="translate(340.6,84.8) rotate(-90) scale(0.89,1)">Sensors</text>
<path d="M544.3,202.2 H541.8 V340.3 H684" fill="none" stroke="#333" stroke-width="0.9"/>
<path d="M541.8,272.5 H544.3" stroke="#333" stroke-width="0.9"/>
<text x="538.7" y="206.3" font-size="10.2" text-anchor="end" font-weight="normal" fill="#000" >1.6</text>
<text x="537.2" y="276.3" font-size="10.2" text-anchor="end" font-weight="normal" fill="#000" >0.8</text>
<text x="539.2" y="344.8" font-size="10.2" text-anchor="end" font-weight="normal" fill="#000" >0</text>
<text x="576.3" y="358.5" font-size="12.75" text-anchor="middle" font-weight="normal" fill="#000" >Control</text>
<text x="642.2" y="358.5" font-size="12.8" text-anchor="middle" font-weight="normal" fill="#000" >Stimulated</text>
<text x="0" y="0" font-size="9" text-anchor="middle" font-weight="normal" fill="#000" transform="translate(513.8,266.6) rotate(-90)">Peristlatic rate</text>
<text x="0" y="0" font-size="9.1" text-anchor="middle" font-weight="normal" fill="#000" transform="translate(524.4,268) rotate(-90)">(cycles per minute)</text>
<path d="M576.2,212.3 V204.4 H642.7 V214" fill="none" stroke="#444" stroke-width="0.8"/>
<text x="608.8" y="203.2" font-size="17" text-anchor="middle" font-weight="bold" fill="#000" >**</text>
<rect x="631.3" y="218.6" width="20.7" height="36" fill="none" stroke="#4050B0" stroke-width="0.9"/>
<line x1="631.6" y1="236.2" x2="651.8" y2="236.2" stroke="#F08080" stroke-width="0.7"/>
<line x1="641.6" y1="214.4" x2="641.6" y2="218.6" stroke="#666" stroke-width="0.6"/>
<line x1="641.6" y1="254.6" x2="641.6" y2="258.9" stroke="#666" stroke-width="0.6"/>
<line x1="637" y1="214.2" x2="646.4" y2="214.2" stroke="#222" stroke-width="1"/>
<line x1="637" y1="258.9" x2="646.4" y2="258.9" stroke="#222" stroke-width="1"/>
<circle cx="636.9" cy="214.3" r="1.5" fill="#3A48A0"/>
<circle cx="647.4" cy="223.3" r="1.5" fill="#3A48A0"/>
<circle cx="645.7" cy="250" r="1.5" fill="#3A48A0"/>
<circle cx="640.9" cy="258.9" r="1.5" fill="#3A48A0"/>
<rect x="563.7" y="314.8" width="20.8" height="11.1" fill="none" stroke="#4050B0" stroke-width="0.9"/>
<line x1="564" y1="318.2" x2="584.2" y2="318.2" stroke="#F08080" stroke-width="0.7"/>
<line x1="574.1" y1="325.9" x2="574.1" y2="333.4" stroke="#888" stroke-width="0.5"/>
<line x1="569.2" y1="311.8" x2="580.3" y2="311.8" stroke="#222" stroke-width="1"/>
<line x1="569.2" y1="333.4" x2="580.3" y2="333.4" stroke="#222" stroke-width="1"/>
<circle cx="580.3" cy="311.8" r="1.5" fill="#3A48A0"/>
<circle cx="569.8" cy="318.2" r="1.5" fill="#3A48A0"/>
<circle cx="580.3" cy="318.2" r="1.5" fill="#3A48A0"/>
<circle cx="580.3" cy="333.4" r="1.5" fill="#3A48A0"/>
<defs><filter id="bl2" x="-50%" y="-50%" width="200%" height="200%"><feGaussianBlur stdDeviation="2"/></filter><filter id="bl4" x="-50%" y="-50%" width="200%" height="200%"><feGaussianBlur stdDeviation="4"/></filter><filter id="bl1" x="-50%" y="-50%" width="200%" height="200%"><feGaussianBlur stdDeviation="0.8"/></filter><clipPath id="cp1"><rect x="541.8" y="15.6" width="141.4" height="45"/></clipPath><clipPath id="cp2"><rect x="541.8" y="63" width="141.4" height="45.6"/></clipPath><clipPath id="cp3"><rect x="541.8" y="111.3" width="141.4" height="44.9"/></clipPath><linearGradient id="p1g" x1="0" x2="0" y1="0" y2="1"><stop offset="0" stop-color="#6C5458"/><stop offset="0.35" stop-color="#86696C"/><stop offset="0.7" stop-color="#826467"/><stop offset="1" stop-color="#7A5C5C"/></linearGradient><linearGradient id="p3g" x1="0" x2="0" y1="0" y2="1"><stop offset="0" stop-color="#88706F"/><stop offset="0.45" stop-color="#7E6466"/><stop offset="1" stop-color="#765E5E"/></linearGradient></defs>
<g clip-path="url(#cp1)">
<rect x="541.80" y="15.60" width="141.40" height="45.00" fill="url(#p1g)" />
<ellipse cx="560" cy="56" rx="24" ry="7" fill="#7E5444" filter="url(#bl4)" opacity="0.8"/>
<ellipse cx="570" cy="27" rx="40" ry="4" fill="#94747C" filter="url(#bl4)" opacity="0.7"/>
<ellipse cx="678" cy="40" rx="7" ry="22" fill="#B89CA2" filter="url(#bl4)"/>
<ellipse cx="650" cy="42" rx="30" ry="4" fill="#9C7E86" filter="url(#bl4)" opacity="0.7"/>
<ellipse cx="586" cy="37" rx="5" ry="9" fill="#563A42" filter="url(#bl2)"/>
<ellipse cx="615" cy="20" rx="9.5" ry="8.5" fill="#2C3436" filter="url(#bl1)"/>
<ellipse cx="603" cy="36.8" rx="16.3" ry="12.6" fill="#E4D8C6" filter="url(#bl1)"/>
<ellipse cx="609" cy="42" rx="10" ry="6" fill="#D2C2A8" filter="url(#bl2)" opacity="0.8"/>
<ellipse cx="597" cy="30" rx="8" ry="5" fill="#F2EAD6" filter="url(#bl2)" opacity="0.9"/>
<path d="M600.5,24 Q602,30 596,35 Q593,38 592,40.5" stroke="#B8906C" stroke-width="0.55" fill="none"/>
<path d="M604,33 Q608,31 612,34" stroke="#B08868" stroke-width="0.5" fill="none" opacity="0.7"/>
<circle cx="603" cy="36" r="0.9" fill="#fff" opacity="0.9"/>
</g>
<g clip-path="url(#cp2)">
<rect x="541.80" y="63.00" width="141.40" height="45.60" fill="#EED8D4" />
<path d="M541.8,63 H590 L588,71 Q565,73 541.8,72 Z" fill="#DCCACE" filter="url(#bl2)"/>
<ellipse cx="563" cy="84" rx="22" ry="7" fill="#F0DAD6" filter="url(#bl4)"/>
<path d="M541.8,108.6 L541.8,102 Q566,96 592,89 L594,108.6 Z" fill="#C08A88" filter="url(#bl1)"/>
<path d="M541.8,108.6 L541.8,105 Q566,100 588,94 L590,108.6 Z" fill="#A86A6A" filter="url(#bl2)" opacity="0.8"/>
<path d="M541.8,101 Q566,95 592,88.5" stroke="#E8C0C0" stroke-width="1.2" fill="none" filter="url(#bl1)" opacity="0.8"/>
<ellipse cx="610" cy="70" rx="18" ry="9" fill="#F2E2DE" filter="url(#bl2)"/>
<ellipse cx="652" cy="72" rx="34" ry="9" fill="#EAD0CC" filter="url(#bl2)"/>
<path d="M604,82 Q640,79 683.2,84" stroke="#D8B0A8" stroke-width="1.6" fill="none" filter="url(#bl1)" opacity="0.55"/>
<ellipse cx="648" cy="91" rx="38" ry="7" fill="#F2DCD4" filter="url(#bl2)"/>
<ellipse cx="672" cy="92" rx="12" ry="8" fill="#F6EAE6" filter="url(#bl2)"/>
<path d="M596,108.6 Q615,100 640,100 Q665,101 682.6,104 V108.6 Z" fill="#E6BCAE" filter="url(#bl2)"/>
<ellipse cx="610" cy="105" rx="14" ry="5" fill="#DCA694" filter="url(#bl2)"/>
<defs><linearGradient id="wedge" x1="0" y1="0" x2="1" y2="1"><stop offset="0" stop-color="#9A7274"/><stop offset="0.5" stop-color="#6A464A"/><stop offset="1" stop-color="#4A2E32"/></linearGradient></defs>
<path d="M580,66 L592,68.5 L604.5,81.3 L603.5,92 L593,92.5 L586,82 Z" fill="#8E6468" filter="url(#bl2)"/>
<path d="M585,71 L593,73 L603.8,82 L602.5,89 L596,87.5 L589,79 Z" fill="#5E3C42" filter="url(#bl1)"/>
<path d="M584,92 Q589,89 594,91 L593,108.6 L584.5,108.6 Z" fill="#7A5058" filter="url(#bl2)"/>
<ellipse cx="589" cy="101" rx="2.2" ry="7" fill="#5A3840" filter="url(#bl1)"/>
<circle cx="591" cy="91" r="0.8" fill="#fff" opacity="0.9"/>
</g>
<g clip-path="url(#cp3)">
<rect x="541.80" y="111.30" width="141.40" height="44.90" fill="url(#p3g)" />
<ellipse cx="600" cy="118" rx="42" ry="6" fill="#A08488" filter="url(#bl4)" opacity="0.8"/>
<ellipse cx="568" cy="149" rx="34" ry="9" fill="#8E6062" filter="url(#bl4)" opacity="0.9"/>
<path d="M600,160 Q622,140 640,122 L660,122 Q645,145 625,160 Z" fill="#5E4A52" filter="url(#bl4)" opacity="0.85"/>
<ellipse cx="635" cy="125" rx="7.5" ry="6" fill="#3C4650" filter="url(#bl2)"/>
<ellipse cx="624.3" cy="132.5" rx="9.5" ry="7.5" fill="#BCB4A6" filter="url(#bl1)"/>
<ellipse cx="622" cy="131" rx="4.5" ry="3" fill="#D8D0C0" filter="url(#bl1)" opacity="0.8"/>
<circle cx="622" cy="134" r="0.7" fill="#fff" opacity="0.9"/>
<circle cx="626" cy="133" r="0.6" fill="#fff" opacity="0.8"/>
</g>
<text x="681.5" y="30.2" font-size="13.5" text-anchor="end" font-weight="normal" fill="#000" >before</text>
<text x="680" y="78.4" font-size="13.5" text-anchor="end" font-weight="normal" fill="#000" >during</text>
<text x="670.5" y="124.6" font-size="13.5" text-anchor="end" font-weight="normal" fill="#000" >after</text>
<rect x="251.50" y="389.80" width="200.50" height="5.80" fill="url(#cbar)" />
<text x="255.5" y="386" font-size="13" text-anchor="middle" font-weight="normal" fill="#000" >8</text>
<text x="307.5" y="386" font-size="13" text-anchor="middle" font-weight="normal" fill="#000" >12</text>
<text x="356.5" y="386" font-size="13" text-anchor="middle" font-weight="normal" fill="#000" >16</text>
<text x="396.5" y="386" font-size="14">D<tspan font-size="10.8">est</tspan><tspan font-size="14.6"> (mm)</tspan></text>
</svg></body></html>
